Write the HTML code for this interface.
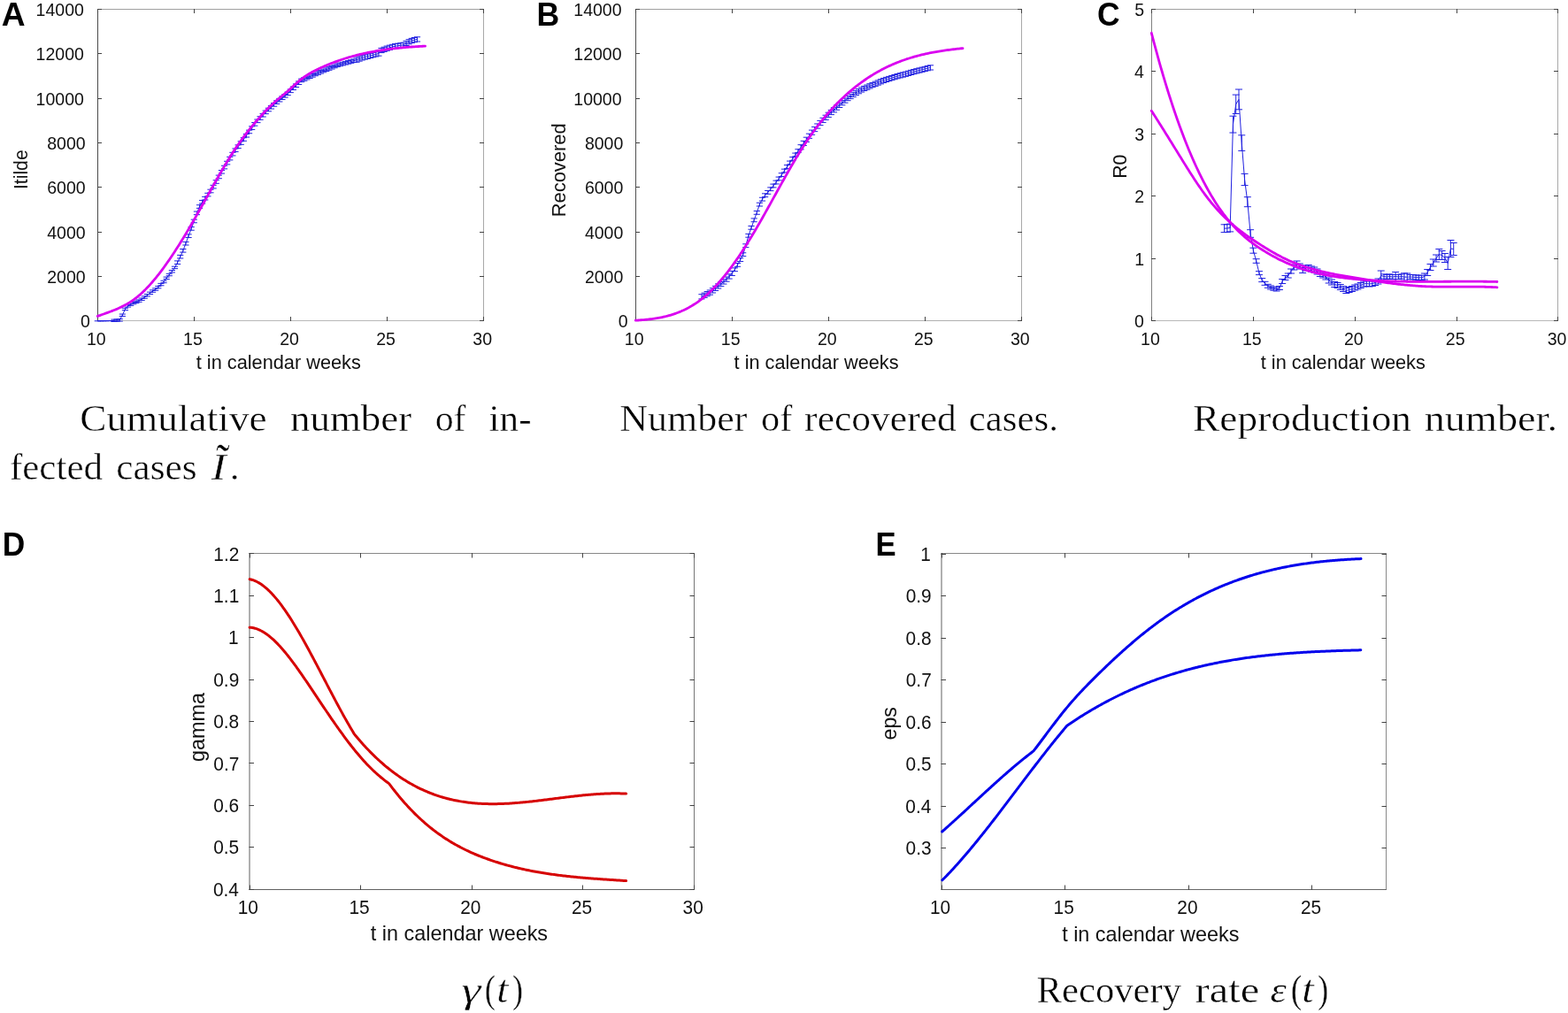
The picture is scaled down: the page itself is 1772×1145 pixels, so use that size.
<!DOCTYPE html>
<html><head><meta charset="utf-8"><title>Figure</title>
<style>html,body{margin:0;padding:0;background:#fff;overflow:hidden;width:1772px;height:1145px}svg{display:block}</style>
</head><body>
<svg width="1772" height="1145" viewBox="0 0 1772 1145">
<rect width="1772" height="1145" fill="#fff"/>
<line x1="110.5" y1="10" x2="110.5" y2="363" stroke="#4a4a4a" stroke-width="1"/>
<line x1="110" y1="10.5" x2="547" y2="10.5" stroke="#a0a0a0" stroke-width="1"/>
<line x1="546.5" y1="10" x2="546.5" y2="363" stroke="#a8a8a8" stroke-width="1"/>
<line x1="110" y1="362.5" x2="547" y2="362.5" stroke="#b8b8b8" stroke-width="1"/>
<line x1="110.5" y1="363" x2="110.5" y2="358" stroke="#444" stroke-width="1"/>
<line x1="110.5" y1="10" x2="110.5" y2="15" stroke="#444" stroke-width="1"/>
<line x1="219.5" y1="363" x2="219.5" y2="358" stroke="#444" stroke-width="1"/>
<line x1="219.5" y1="10" x2="219.5" y2="15" stroke="#444" stroke-width="1"/>
<line x1="328.5" y1="363" x2="328.5" y2="358" stroke="#444" stroke-width="1"/>
<line x1="328.5" y1="10" x2="328.5" y2="15" stroke="#444" stroke-width="1"/>
<line x1="437.5" y1="363" x2="437.5" y2="358" stroke="#444" stroke-width="1"/>
<line x1="437.5" y1="10" x2="437.5" y2="15" stroke="#444" stroke-width="1"/>
<line x1="546.5" y1="363" x2="546.5" y2="358" stroke="#444" stroke-width="1"/>
<line x1="546.5" y1="10" x2="546.5" y2="15" stroke="#444" stroke-width="1"/>
<line x1="110" y1="362.5" x2="115" y2="362.5" stroke="#444" stroke-width="1"/>
<line x1="547" y1="362.5" x2="542" y2="362.5" stroke="#444" stroke-width="1"/>
<line x1="110" y1="312.5" x2="115" y2="312.5" stroke="#444" stroke-width="1"/>
<line x1="547" y1="312.5" x2="542" y2="312.5" stroke="#444" stroke-width="1"/>
<line x1="110" y1="262.5" x2="115" y2="262.5" stroke="#444" stroke-width="1"/>
<line x1="547" y1="262.5" x2="542" y2="262.5" stroke="#444" stroke-width="1"/>
<line x1="110" y1="211.5" x2="115" y2="211.5" stroke="#444" stroke-width="1"/>
<line x1="547" y1="211.5" x2="542" y2="211.5" stroke="#444" stroke-width="1"/>
<line x1="110" y1="161.5" x2="115" y2="161.5" stroke="#444" stroke-width="1"/>
<line x1="547" y1="161.5" x2="542" y2="161.5" stroke="#444" stroke-width="1"/>
<line x1="110" y1="111.5" x2="115" y2="111.5" stroke="#444" stroke-width="1"/>
<line x1="547" y1="111.5" x2="542" y2="111.5" stroke="#444" stroke-width="1"/>
<line x1="110" y1="60.5" x2="115" y2="60.5" stroke="#444" stroke-width="1"/>
<line x1="547" y1="60.5" x2="542" y2="60.5" stroke="#444" stroke-width="1"/>
<line x1="110" y1="10.5" x2="115" y2="10.5" stroke="#444" stroke-width="1"/>
<line x1="547" y1="10.5" x2="542" y2="10.5" stroke="#444" stroke-width="1"/>
<line x1="718.5" y1="10" x2="718.5" y2="363" stroke="#505050" stroke-width="1"/>
<line x1="718" y1="10.5" x2="1155" y2="10.5" stroke="#a0a0a0" stroke-width="1"/>
<line x1="1154.5" y1="10" x2="1154.5" y2="363" stroke="#a8a8a8" stroke-width="1"/>
<line x1="718" y1="362.5" x2="1155" y2="362.5" stroke="#b0b0b0" stroke-width="1"/>
<line x1="718.5" y1="363" x2="718.5" y2="358" stroke="#444" stroke-width="1"/>
<line x1="718.5" y1="10" x2="718.5" y2="15" stroke="#444" stroke-width="1"/>
<line x1="827.5" y1="363" x2="827.5" y2="358" stroke="#444" stroke-width="1"/>
<line x1="827.5" y1="10" x2="827.5" y2="15" stroke="#444" stroke-width="1"/>
<line x1="936.5" y1="363" x2="936.5" y2="358" stroke="#444" stroke-width="1"/>
<line x1="936.5" y1="10" x2="936.5" y2="15" stroke="#444" stroke-width="1"/>
<line x1="1045.5" y1="363" x2="1045.5" y2="358" stroke="#444" stroke-width="1"/>
<line x1="1045.5" y1="10" x2="1045.5" y2="15" stroke="#444" stroke-width="1"/>
<line x1="1154.5" y1="363" x2="1154.5" y2="358" stroke="#444" stroke-width="1"/>
<line x1="1154.5" y1="10" x2="1154.5" y2="15" stroke="#444" stroke-width="1"/>
<line x1="718" y1="362.5" x2="723" y2="362.5" stroke="#444" stroke-width="1"/>
<line x1="1155" y1="362.5" x2="1150" y2="362.5" stroke="#444" stroke-width="1"/>
<line x1="718" y1="312.5" x2="723" y2="312.5" stroke="#444" stroke-width="1"/>
<line x1="1155" y1="312.5" x2="1150" y2="312.5" stroke="#444" stroke-width="1"/>
<line x1="718" y1="262.5" x2="723" y2="262.5" stroke="#444" stroke-width="1"/>
<line x1="1155" y1="262.5" x2="1150" y2="262.5" stroke="#444" stroke-width="1"/>
<line x1="718" y1="211.5" x2="723" y2="211.5" stroke="#444" stroke-width="1"/>
<line x1="1155" y1="211.5" x2="1150" y2="211.5" stroke="#444" stroke-width="1"/>
<line x1="718" y1="161.5" x2="723" y2="161.5" stroke="#444" stroke-width="1"/>
<line x1="1155" y1="161.5" x2="1150" y2="161.5" stroke="#444" stroke-width="1"/>
<line x1="718" y1="111.5" x2="723" y2="111.5" stroke="#444" stroke-width="1"/>
<line x1="1155" y1="111.5" x2="1150" y2="111.5" stroke="#444" stroke-width="1"/>
<line x1="718" y1="60.5" x2="723" y2="60.5" stroke="#444" stroke-width="1"/>
<line x1="1155" y1="60.5" x2="1150" y2="60.5" stroke="#444" stroke-width="1"/>
<line x1="718" y1="10.5" x2="723" y2="10.5" stroke="#444" stroke-width="1"/>
<line x1="1155" y1="10.5" x2="1150" y2="10.5" stroke="#444" stroke-width="1"/>
<line x1="1301.5" y1="10" x2="1301.5" y2="363" stroke="#808080" stroke-width="1"/>
<line x1="1301" y1="10.5" x2="1761" y2="10.5" stroke="#a0a0a0" stroke-width="1"/>
<line x1="1760.5" y1="10" x2="1760.5" y2="363" stroke="#a8a8a8" stroke-width="1"/>
<line x1="1301" y1="362.5" x2="1761" y2="362.5" stroke="#b8b8b8" stroke-width="1"/>
<line x1="1301.5" y1="363" x2="1301.5" y2="358" stroke="#444" stroke-width="1"/>
<line x1="1301.5" y1="10" x2="1301.5" y2="15" stroke="#444" stroke-width="1"/>
<line x1="1416.5" y1="363" x2="1416.5" y2="358" stroke="#444" stroke-width="1"/>
<line x1="1416.5" y1="10" x2="1416.5" y2="15" stroke="#444" stroke-width="1"/>
<line x1="1531.5" y1="363" x2="1531.5" y2="358" stroke="#444" stroke-width="1"/>
<line x1="1531.5" y1="10" x2="1531.5" y2="15" stroke="#444" stroke-width="1"/>
<line x1="1646.5" y1="363" x2="1646.5" y2="358" stroke="#444" stroke-width="1"/>
<line x1="1646.5" y1="10" x2="1646.5" y2="15" stroke="#444" stroke-width="1"/>
<line x1="1760.5" y1="363" x2="1760.5" y2="358" stroke="#444" stroke-width="1"/>
<line x1="1760.5" y1="10" x2="1760.5" y2="15" stroke="#444" stroke-width="1"/>
<line x1="1301" y1="362.5" x2="1306" y2="362.5" stroke="#444" stroke-width="1"/>
<line x1="1761" y1="362.5" x2="1756" y2="362.5" stroke="#444" stroke-width="1"/>
<line x1="1301" y1="292.5" x2="1306" y2="292.5" stroke="#444" stroke-width="1"/>
<line x1="1761" y1="292.5" x2="1756" y2="292.5" stroke="#444" stroke-width="1"/>
<line x1="1301" y1="221.5" x2="1306" y2="221.5" stroke="#444" stroke-width="1"/>
<line x1="1761" y1="221.5" x2="1756" y2="221.5" stroke="#444" stroke-width="1"/>
<line x1="1301" y1="151.5" x2="1306" y2="151.5" stroke="#444" stroke-width="1"/>
<line x1="1761" y1="151.5" x2="1756" y2="151.5" stroke="#444" stroke-width="1"/>
<line x1="1301" y1="80.5" x2="1306" y2="80.5" stroke="#444" stroke-width="1"/>
<line x1="1761" y1="80.5" x2="1756" y2="80.5" stroke="#444" stroke-width="1"/>
<line x1="1301" y1="10.5" x2="1306" y2="10.5" stroke="#444" stroke-width="1"/>
<line x1="1761" y1="10.5" x2="1756" y2="10.5" stroke="#444" stroke-width="1"/>
<line x1="282" y1="625" x2="282" y2="1006" stroke="#606060" stroke-width="1"/>
<line x1="281.5" y1="625.5" x2="785" y2="625.5" stroke="#888888" stroke-width="1"/>
<line x1="784.5" y1="625" x2="784.5" y2="1006" stroke="#777777" stroke-width="1"/>
<line x1="281.5" y1="1005.5" x2="785" y2="1005.5" stroke="#606060" stroke-width="1"/>
<line x1="282.5" y1="1006" x2="282.5" y2="1000.5" stroke="#444" stroke-width="1"/>
<line x1="282.5" y1="625" x2="282.5" y2="630.5" stroke="#444" stroke-width="1"/>
<line x1="407.5" y1="1006" x2="407.5" y2="1000.5" stroke="#444" stroke-width="1"/>
<line x1="407.5" y1="625" x2="407.5" y2="630.5" stroke="#444" stroke-width="1"/>
<line x1="533.5" y1="1006" x2="533.5" y2="1000.5" stroke="#444" stroke-width="1"/>
<line x1="533.5" y1="625" x2="533.5" y2="630.5" stroke="#444" stroke-width="1"/>
<line x1="658.5" y1="1006" x2="658.5" y2="1000.5" stroke="#444" stroke-width="1"/>
<line x1="658.5" y1="625" x2="658.5" y2="630.5" stroke="#444" stroke-width="1"/>
<line x1="784.5" y1="1006" x2="784.5" y2="1000.5" stroke="#444" stroke-width="1"/>
<line x1="784.5" y1="625" x2="784.5" y2="630.5" stroke="#444" stroke-width="1"/>
<line x1="281.5" y1="1005.5" x2="287" y2="1005.5" stroke="#444" stroke-width="1"/>
<line x1="785" y1="1005.5" x2="779.5" y2="1005.5" stroke="#444" stroke-width="1"/>
<line x1="281.5" y1="957.5" x2="287" y2="957.5" stroke="#444" stroke-width="1"/>
<line x1="785" y1="957.5" x2="779.5" y2="957.5" stroke="#444" stroke-width="1"/>
<line x1="281.5" y1="910.5" x2="287" y2="910.5" stroke="#444" stroke-width="1"/>
<line x1="785" y1="910.5" x2="779.5" y2="910.5" stroke="#444" stroke-width="1"/>
<line x1="281.5" y1="862.5" x2="287" y2="862.5" stroke="#444" stroke-width="1"/>
<line x1="785" y1="862.5" x2="779.5" y2="862.5" stroke="#444" stroke-width="1"/>
<line x1="281.5" y1="815.5" x2="287" y2="815.5" stroke="#444" stroke-width="1"/>
<line x1="785" y1="815.5" x2="779.5" y2="815.5" stroke="#444" stroke-width="1"/>
<line x1="281.5" y1="768.5" x2="287" y2="768.5" stroke="#444" stroke-width="1"/>
<line x1="785" y1="768.5" x2="779.5" y2="768.5" stroke="#444" stroke-width="1"/>
<line x1="281.5" y1="720.5" x2="287" y2="720.5" stroke="#444" stroke-width="1"/>
<line x1="785" y1="720.5" x2="779.5" y2="720.5" stroke="#444" stroke-width="1"/>
<line x1="281.5" y1="673.5" x2="287" y2="673.5" stroke="#444" stroke-width="1"/>
<line x1="785" y1="673.5" x2="779.5" y2="673.5" stroke="#444" stroke-width="1"/>
<line x1="281.5" y1="625.5" x2="287" y2="625.5" stroke="#444" stroke-width="1"/>
<line x1="785" y1="625.5" x2="779.5" y2="625.5" stroke="#444" stroke-width="1"/>
<line x1="1064" y1="625" x2="1064" y2="1006" stroke="#606060" stroke-width="1"/>
<line x1="1063.5" y1="625.5" x2="1567" y2="625.5" stroke="#888888" stroke-width="1"/>
<line x1="1566.5" y1="625" x2="1566.5" y2="1006" stroke="#888888" stroke-width="1"/>
<line x1="1063.5" y1="1005.5" x2="1567" y2="1005.5" stroke="#666666" stroke-width="1"/>
<line x1="1064.5" y1="1006" x2="1064.5" y2="1000.5" stroke="#444" stroke-width="1"/>
<line x1="1064.5" y1="625" x2="1064.5" y2="630.5" stroke="#444" stroke-width="1"/>
<line x1="1203.5" y1="1006" x2="1203.5" y2="1000.5" stroke="#444" stroke-width="1"/>
<line x1="1203.5" y1="625" x2="1203.5" y2="630.5" stroke="#444" stroke-width="1"/>
<line x1="1343.5" y1="1006" x2="1343.5" y2="1000.5" stroke="#444" stroke-width="1"/>
<line x1="1343.5" y1="625" x2="1343.5" y2="630.5" stroke="#444" stroke-width="1"/>
<line x1="1482.5" y1="1006" x2="1482.5" y2="1000.5" stroke="#444" stroke-width="1"/>
<line x1="1482.5" y1="625" x2="1482.5" y2="630.5" stroke="#444" stroke-width="1"/>
<line x1="1063.5" y1="958.5" x2="1069" y2="958.5" stroke="#444" stroke-width="1"/>
<line x1="1567" y1="958.5" x2="1561.5" y2="958.5" stroke="#444" stroke-width="1"/>
<line x1="1063.5" y1="911.5" x2="1069" y2="911.5" stroke="#444" stroke-width="1"/>
<line x1="1567" y1="911.5" x2="1561.5" y2="911.5" stroke="#444" stroke-width="1"/>
<line x1="1063.5" y1="863.5" x2="1069" y2="863.5" stroke="#444" stroke-width="1"/>
<line x1="1567" y1="863.5" x2="1561.5" y2="863.5" stroke="#444" stroke-width="1"/>
<line x1="1063.5" y1="816.5" x2="1069" y2="816.5" stroke="#444" stroke-width="1"/>
<line x1="1567" y1="816.5" x2="1561.5" y2="816.5" stroke="#444" stroke-width="1"/>
<line x1="1063.5" y1="768.5" x2="1069" y2="768.5" stroke="#444" stroke-width="1"/>
<line x1="1567" y1="768.5" x2="1561.5" y2="768.5" stroke="#444" stroke-width="1"/>
<line x1="1063.5" y1="721.5" x2="1069" y2="721.5" stroke="#444" stroke-width="1"/>
<line x1="1567" y1="721.5" x2="1561.5" y2="721.5" stroke="#444" stroke-width="1"/>
<line x1="1063.5" y1="673.5" x2="1069" y2="673.5" stroke="#444" stroke-width="1"/>
<line x1="1567" y1="673.5" x2="1561.5" y2="673.5" stroke="#444" stroke-width="1"/>
<line x1="1063.5" y1="626.5" x2="1069" y2="626.5" stroke="#444" stroke-width="1"/>
<line x1="1567" y1="626.5" x2="1561.5" y2="626.5" stroke="#444" stroke-width="1"/>
<text x="91.04" y="370.4" font-family="'Liberation Sans', Arial, Helvetica, sans-serif" font-size="21" fill="#111" textLength="10.86" lengthAdjust="spacingAndGlyphs">0</text>
<text x="53.18" y="320.06" font-family="'Liberation Sans', Arial, Helvetica, sans-serif" font-size="21" fill="#111" textLength="43.45" lengthAdjust="spacingAndGlyphs">2000</text>
<text x="53.18" y="269.71" font-family="'Liberation Sans', Arial, Helvetica, sans-serif" font-size="21" fill="#111" textLength="43.45" lengthAdjust="spacingAndGlyphs">4000</text>
<text x="53.18" y="219.37" font-family="'Liberation Sans', Arial, Helvetica, sans-serif" font-size="21" fill="#111" textLength="43.45" lengthAdjust="spacingAndGlyphs">6000</text>
<text x="53.18" y="169.03" font-family="'Liberation Sans', Arial, Helvetica, sans-serif" font-size="21" fill="#111" textLength="43.45" lengthAdjust="spacingAndGlyphs">8000</text>
<text x="40.59" y="118.69" font-family="'Liberation Sans', Arial, Helvetica, sans-serif" font-size="21" fill="#111" textLength="54.31" lengthAdjust="spacingAndGlyphs">10000</text>
<text x="40.59" y="68.34" font-family="'Liberation Sans', Arial, Helvetica, sans-serif" font-size="21" fill="#111" textLength="54.31" lengthAdjust="spacingAndGlyphs">12000</text>
<text x="40.59" y="18" font-family="'Liberation Sans', Arial, Helvetica, sans-serif" font-size="21" fill="#111" textLength="54.31" lengthAdjust="spacingAndGlyphs">14000</text>
<text x="698.74" y="370.4" font-family="'Liberation Sans', Arial, Helvetica, sans-serif" font-size="21" fill="#111" textLength="10.86" lengthAdjust="spacingAndGlyphs">0</text>
<text x="660.88" y="320.06" font-family="'Liberation Sans', Arial, Helvetica, sans-serif" font-size="21" fill="#111" textLength="43.45" lengthAdjust="spacingAndGlyphs">2000</text>
<text x="660.88" y="269.71" font-family="'Liberation Sans', Arial, Helvetica, sans-serif" font-size="21" fill="#111" textLength="43.45" lengthAdjust="spacingAndGlyphs">4000</text>
<text x="660.88" y="219.37" font-family="'Liberation Sans', Arial, Helvetica, sans-serif" font-size="21" fill="#111" textLength="43.45" lengthAdjust="spacingAndGlyphs">6000</text>
<text x="660.88" y="169.03" font-family="'Liberation Sans', Arial, Helvetica, sans-serif" font-size="21" fill="#111" textLength="43.45" lengthAdjust="spacingAndGlyphs">8000</text>
<text x="648.29" y="118.69" font-family="'Liberation Sans', Arial, Helvetica, sans-serif" font-size="21" fill="#111" textLength="54.31" lengthAdjust="spacingAndGlyphs">10000</text>
<text x="648.29" y="68.34" font-family="'Liberation Sans', Arial, Helvetica, sans-serif" font-size="21" fill="#111" textLength="54.31" lengthAdjust="spacingAndGlyphs">12000</text>
<text x="648.29" y="18" font-family="'Liberation Sans', Arial, Helvetica, sans-serif" font-size="21" fill="#111" textLength="54.31" lengthAdjust="spacingAndGlyphs">14000</text>
<text x="1282.04" y="370.4" font-family="'Liberation Sans', Arial, Helvetica, sans-serif" font-size="21" fill="#111" textLength="10.86" lengthAdjust="spacingAndGlyphs">0</text>
<text x="1282.24" y="299.92" font-family="'Liberation Sans', Arial, Helvetica, sans-serif" font-size="21" fill="#111" textLength="10.86" lengthAdjust="spacingAndGlyphs">1</text>
<text x="1282.34" y="229.44" font-family="'Liberation Sans', Arial, Helvetica, sans-serif" font-size="21" fill="#111" textLength="10.86" lengthAdjust="spacingAndGlyphs">2</text>
<text x="1282.14" y="158.96" font-family="'Liberation Sans', Arial, Helvetica, sans-serif" font-size="21" fill="#111" textLength="10.86" lengthAdjust="spacingAndGlyphs">3</text>
<text x="1281.95" y="88.48" font-family="'Liberation Sans', Arial, Helvetica, sans-serif" font-size="21" fill="#111" textLength="10.86" lengthAdjust="spacingAndGlyphs">4</text>
<text x="1282.14" y="18" font-family="'Liberation Sans', Arial, Helvetica, sans-serif" font-size="21" fill="#111" textLength="10.86" lengthAdjust="spacingAndGlyphs">5</text>
<text x="240.95" y="1012.8" font-family="'Liberation Sans', Arial, Helvetica, sans-serif" font-size="21.6" fill="#111" textLength="28.98" lengthAdjust="spacingAndGlyphs">0.4</text>
<text x="241.16" y="965.4" font-family="'Liberation Sans', Arial, Helvetica, sans-serif" font-size="21.6" fill="#111" textLength="28.98" lengthAdjust="spacingAndGlyphs">0.5</text>
<text x="241.16" y="918" font-family="'Liberation Sans', Arial, Helvetica, sans-serif" font-size="21.6" fill="#111" textLength="28.98" lengthAdjust="spacingAndGlyphs">0.6</text>
<text x="241.37" y="870.6" font-family="'Liberation Sans', Arial, Helvetica, sans-serif" font-size="21.6" fill="#111" textLength="28.98" lengthAdjust="spacingAndGlyphs">0.7</text>
<text x="241.16" y="823.2" font-family="'Liberation Sans', Arial, Helvetica, sans-serif" font-size="21.6" fill="#111" textLength="28.98" lengthAdjust="spacingAndGlyphs">0.8</text>
<text x="241.26" y="775.8" font-family="'Liberation Sans', Arial, Helvetica, sans-serif" font-size="21.6" fill="#111" textLength="28.98" lengthAdjust="spacingAndGlyphs">0.9</text>
<text x="257.97" y="728.4" font-family="'Liberation Sans', Arial, Helvetica, sans-serif" font-size="21.6" fill="#111" textLength="11.59" lengthAdjust="spacingAndGlyphs">1</text>
<text x="241.26" y="681" font-family="'Liberation Sans', Arial, Helvetica, sans-serif" font-size="21.6" fill="#111" textLength="28.98" lengthAdjust="spacingAndGlyphs">1.1</text>
<text x="241.37" y="633.6" font-family="'Liberation Sans', Arial, Helvetica, sans-serif" font-size="21.6" fill="#111" textLength="28.98" lengthAdjust="spacingAndGlyphs">1.2</text>
<text x="1023.56" y="966.46" font-family="'Liberation Sans', Arial, Helvetica, sans-serif" font-size="21.6" fill="#111" textLength="28.98" lengthAdjust="spacingAndGlyphs">0.3</text>
<text x="1023.35" y="918.94" font-family="'Liberation Sans', Arial, Helvetica, sans-serif" font-size="21.6" fill="#111" textLength="28.98" lengthAdjust="spacingAndGlyphs">0.4</text>
<text x="1023.56" y="871.42" font-family="'Liberation Sans', Arial, Helvetica, sans-serif" font-size="21.6" fill="#111" textLength="28.98" lengthAdjust="spacingAndGlyphs">0.5</text>
<text x="1023.56" y="823.89" font-family="'Liberation Sans', Arial, Helvetica, sans-serif" font-size="21.6" fill="#111" textLength="28.98" lengthAdjust="spacingAndGlyphs">0.6</text>
<text x="1023.77" y="776.37" font-family="'Liberation Sans', Arial, Helvetica, sans-serif" font-size="21.6" fill="#111" textLength="28.98" lengthAdjust="spacingAndGlyphs">0.7</text>
<text x="1023.56" y="728.85" font-family="'Liberation Sans', Arial, Helvetica, sans-serif" font-size="21.6" fill="#111" textLength="28.98" lengthAdjust="spacingAndGlyphs">0.8</text>
<text x="1023.66" y="681.32" font-family="'Liberation Sans', Arial, Helvetica, sans-serif" font-size="21.6" fill="#111" textLength="28.98" lengthAdjust="spacingAndGlyphs">0.9</text>
<text x="1040.37" y="633.8" font-family="'Liberation Sans', Arial, Helvetica, sans-serif" font-size="21.6" fill="#111" textLength="11.59" lengthAdjust="spacingAndGlyphs">1</text>
<text x="97.97" y="390" font-family="'Liberation Sans', Arial, Helvetica, sans-serif" font-size="21" fill="#111" textLength="21.72" lengthAdjust="spacingAndGlyphs">10</text>
<text x="207.02" y="390" font-family="'Liberation Sans', Arial, Helvetica, sans-serif" font-size="21" fill="#111" textLength="21.72" lengthAdjust="spacingAndGlyphs">15</text>
<text x="316.21" y="390" font-family="'Liberation Sans', Arial, Helvetica, sans-serif" font-size="21" fill="#111" textLength="21.72" lengthAdjust="spacingAndGlyphs">20</text>
<text x="425.26" y="390" font-family="'Liberation Sans', Arial, Helvetica, sans-serif" font-size="21" fill="#111" textLength="21.72" lengthAdjust="spacingAndGlyphs">25</text>
<text x="534.31" y="390" font-family="'Liberation Sans', Arial, Helvetica, sans-serif" font-size="21" fill="#111" textLength="21.72" lengthAdjust="spacingAndGlyphs">30</text>
<text x="705.77" y="390" font-family="'Liberation Sans', Arial, Helvetica, sans-serif" font-size="21" fill="#111" textLength="21.72" lengthAdjust="spacingAndGlyphs">10</text>
<text x="814.79" y="390" font-family="'Liberation Sans', Arial, Helvetica, sans-serif" font-size="21" fill="#111" textLength="21.72" lengthAdjust="spacingAndGlyphs">15</text>
<text x="923.96" y="390" font-family="'Liberation Sans', Arial, Helvetica, sans-serif" font-size="21" fill="#111" textLength="21.72" lengthAdjust="spacingAndGlyphs">20</text>
<text x="1032.99" y="390" font-family="'Liberation Sans', Arial, Helvetica, sans-serif" font-size="21" fill="#111" textLength="21.72" lengthAdjust="spacingAndGlyphs">25</text>
<text x="1142.01" y="390" font-family="'Liberation Sans', Arial, Helvetica, sans-serif" font-size="21" fill="#111" textLength="21.72" lengthAdjust="spacingAndGlyphs">30</text>
<text x="1289.07" y="390" font-family="'Liberation Sans', Arial, Helvetica, sans-serif" font-size="21" fill="#111" textLength="21.72" lengthAdjust="spacingAndGlyphs">10</text>
<text x="1403.94" y="390" font-family="'Liberation Sans', Arial, Helvetica, sans-serif" font-size="21" fill="#111" textLength="21.72" lengthAdjust="spacingAndGlyphs">15</text>
<text x="1518.96" y="390" font-family="'Liberation Sans', Arial, Helvetica, sans-serif" font-size="21" fill="#111" textLength="21.72" lengthAdjust="spacingAndGlyphs">20</text>
<text x="1633.84" y="390" font-family="'Liberation Sans', Arial, Helvetica, sans-serif" font-size="21" fill="#111" textLength="21.72" lengthAdjust="spacingAndGlyphs">25</text>
<text x="1748.71" y="390" font-family="'Liberation Sans', Arial, Helvetica, sans-serif" font-size="21" fill="#111" textLength="21.72" lengthAdjust="spacingAndGlyphs">30</text>
<text x="268.71" y="1033.3" font-family="'Liberation Sans', Arial, Helvetica, sans-serif" font-size="21.6" fill="#111" textLength="23.19" lengthAdjust="spacingAndGlyphs">10</text>
<text x="394.39" y="1033.3" font-family="'Liberation Sans', Arial, Helvetica, sans-serif" font-size="21.6" fill="#111" textLength="23.19" lengthAdjust="spacingAndGlyphs">15</text>
<text x="520.23" y="1033.3" font-family="'Liberation Sans', Arial, Helvetica, sans-serif" font-size="21.6" fill="#111" textLength="23.19" lengthAdjust="spacingAndGlyphs">20</text>
<text x="645.9" y="1033.3" font-family="'Liberation Sans', Arial, Helvetica, sans-serif" font-size="21.6" fill="#111" textLength="23.19" lengthAdjust="spacingAndGlyphs">25</text>
<text x="771.58" y="1033.3" font-family="'Liberation Sans', Arial, Helvetica, sans-serif" font-size="21.6" fill="#111" textLength="23.19" lengthAdjust="spacingAndGlyphs">30</text>
<text x="1051.01" y="1033.3" font-family="'Liberation Sans', Arial, Helvetica, sans-serif" font-size="21.6" fill="#111" textLength="23.19" lengthAdjust="spacingAndGlyphs">10</text>
<text x="1190.59" y="1033.3" font-family="'Liberation Sans', Arial, Helvetica, sans-serif" font-size="21.6" fill="#111" textLength="23.19" lengthAdjust="spacingAndGlyphs">15</text>
<text x="1330.33" y="1033.3" font-family="'Liberation Sans', Arial, Helvetica, sans-serif" font-size="21.6" fill="#111" textLength="23.19" lengthAdjust="spacingAndGlyphs">20</text>
<text x="1469.91" y="1033.3" font-family="'Liberation Sans', Arial, Helvetica, sans-serif" font-size="21.6" fill="#111" textLength="23.19" lengthAdjust="spacingAndGlyphs">25</text>
<text x="221.77" y="416.6" font-family="'Liberation Sans', Arial, Helvetica, sans-serif" font-size="21.8" fill="#111" textLength="186.09" lengthAdjust="spacingAndGlyphs">t in calendar weeks</text>
<text x="829.57" y="416.6" font-family="'Liberation Sans', Arial, Helvetica, sans-serif" font-size="21.8" fill="#111" textLength="185.99" lengthAdjust="spacingAndGlyphs">t in calendar weeks</text>
<text x="1424.77" y="416.6" font-family="'Liberation Sans', Arial, Helvetica, sans-serif" font-size="21.8" fill="#111" textLength="186.09" lengthAdjust="spacingAndGlyphs">t in calendar weeks</text>
<text x="418.85" y="1063.4" font-family="'Liberation Sans', Arial, Helvetica, sans-serif" font-size="23.4" fill="#111">t in calendar weeks</text>
<text x="1200.15" y="1063.8" font-family="'Liberation Sans', Arial, Helvetica, sans-serif" font-size="23.4" fill="#111">t in calendar weeks</text>
<text x="0" y="0" transform="translate(30.6 214.11) rotate(-90)" font-family="'Liberation Sans', Arial, Helvetica, sans-serif" font-size="21.8" fill="#111" textLength="44.81" lengthAdjust="spacingAndGlyphs">Itilde</text>
<text x="0" y="0" transform="translate(639 245.25) rotate(-90)" font-family="'Liberation Sans', Arial, Helvetica, sans-serif" font-size="21.8" fill="#111" textLength="105.9" lengthAdjust="spacingAndGlyphs">Recovered</text>
<text x="0" y="0" transform="translate(1272.6 201.8) rotate(-90)" font-family="'Liberation Sans', Arial, Helvetica, sans-serif" font-size="21.8" fill="#111" textLength="27.11" lengthAdjust="spacingAndGlyphs">R0</text>
<text x="0" y="0" transform="translate(230.8 860.93) rotate(-90)" font-family="'Liberation Sans', Arial, Helvetica, sans-serif" font-size="23.4" fill="#111" textLength="77.82" lengthAdjust="spacingAndGlyphs">gamma</text>
<text x="0" y="0" transform="translate(1013.3 836.53) rotate(-90)" font-family="'Liberation Sans', Arial, Helvetica, sans-serif" font-size="23.4" fill="#111" textLength="37.5" lengthAdjust="spacingAndGlyphs">eps</text>
<text x="1.87" y="29.3" font-family="'Liberation Sans', Arial, Helvetica, sans-serif" font-size="37.3" font-weight="bold" fill="#000" textLength="26.84" lengthAdjust="spacingAndGlyphs">A</text>
<text x="606.59" y="28.7" font-family="'Liberation Sans', Arial, Helvetica, sans-serif" font-size="37.3" font-weight="bold" fill="#000" textLength="25.69" lengthAdjust="spacingAndGlyphs">B</text>
<text x="1239.98" y="29.1" font-family="'Liberation Sans', Arial, Helvetica, sans-serif" font-size="37.3" font-weight="bold" fill="#000" textLength="25.58" lengthAdjust="spacingAndGlyphs">C</text>
<text x="2.71" y="628.4" font-family="'Liberation Sans', Arial, Helvetica, sans-serif" font-size="37.3" font-weight="bold" fill="#000" textLength="25.48" lengthAdjust="spacingAndGlyphs">D</text>
<text x="989.45" y="628.4" font-family="'Liberation Sans', Arial, Helvetica, sans-serif" font-size="37.3" font-weight="bold" fill="#000" textLength="23.14" lengthAdjust="spacingAndGlyphs">E</text>
<text x="90.19" y="487.4" font-family="'Liberation Serif', 'Times New Roman', serif" font-size="42" fill="#000" textLength="211.54" lengthAdjust="spacingAndGlyphs" stroke="#fff" stroke-width="0.45">Cumulative</text>
<text x="328" y="487.4" font-family="'Liberation Serif', 'Times New Roman', serif" font-size="42" fill="#000" textLength="137.13" lengthAdjust="spacingAndGlyphs" stroke="#fff" stroke-width="0.45">number</text>
<text x="491.73" y="487.4" font-family="'Liberation Serif', 'Times New Roman', serif" font-size="42" fill="#000" textLength="34.79" lengthAdjust="spacingAndGlyphs" stroke="#fff" stroke-width="0.45">of</text>
<text x="552.64" y="487.4" font-family="'Liberation Serif', 'Times New Roman', serif" font-size="42" fill="#000" textLength="47.91" lengthAdjust="spacingAndGlyphs" stroke="#fff" stroke-width="0.45">in-</text>
<text x="10.91" y="542.2" font-family="'Liberation Serif', 'Times New Roman', serif" font-size="42" fill="#000" textLength="105.12" lengthAdjust="spacingAndGlyphs" stroke="#fff" stroke-width="0.45">fected</text>
<text x="131.27" y="542.2" font-family="'Liberation Serif', 'Times New Roman', serif" font-size="42" fill="#000" textLength="91.23" lengthAdjust="spacingAndGlyphs" stroke="#fff" stroke-width="0.45">cases</text>
<text x="238.85" y="542.2" font-family="'Liberation Serif', 'Times New Roman', serif" font-size="42" font-style="italic" fill="#000" textLength="16.87" lengthAdjust="spacingAndGlyphs" stroke="#fff" stroke-width="0.45">I</text>
<text x="244.14" y="542.4" font-family="'Liberation Serif', 'Times New Roman', serif" font-size="60" fill="#000" textLength="15.33" lengthAdjust="spacingAndGlyphs" stroke="#fff" stroke-width="0.45">˜</text>
<text x="259.68" y="542.2" font-family="'Liberation Serif', 'Times New Roman', serif" font-size="42" fill="#000" textLength="10.83" lengthAdjust="spacingAndGlyphs" stroke="#fff" stroke-width="0.45">.</text>
<text x="700.38" y="487.2" font-family="'Liberation Serif', 'Times New Roman', serif" font-size="42" fill="#000" textLength="143.92" lengthAdjust="spacingAndGlyphs" stroke="#fff" stroke-width="0.45">Number</text>
<text x="860" y="487.2" font-family="'Liberation Serif', 'Times New Roman', serif" font-size="42" fill="#000" textLength="35.31" lengthAdjust="spacingAndGlyphs" stroke="#fff" stroke-width="0.45">of</text>
<text x="909.13" y="487.2" font-family="'Liberation Serif', 'Times New Roman', serif" font-size="42" fill="#000" textLength="171.67" lengthAdjust="spacingAndGlyphs" stroke="#fff" stroke-width="0.45">recovered</text>
<text x="1094.68" y="487.2" font-family="'Liberation Serif', 'Times New Roman', serif" font-size="42" fill="#000" textLength="101.3" lengthAdjust="spacingAndGlyphs" stroke="#fff" stroke-width="0.45">cases.</text>
<text x="1348.14" y="487.2" font-family="'Liberation Serif', 'Times New Roman', serif" font-size="42" fill="#000" textLength="246.87" lengthAdjust="spacingAndGlyphs" stroke="#fff" stroke-width="0.45">Reproduction</text>
<text x="1609.67" y="487.2" font-family="'Liberation Serif', 'Times New Roman', serif" font-size="42" fill="#000" textLength="150.31" lengthAdjust="spacingAndGlyphs" stroke="#fff" stroke-width="0.45">number.</text>
<text x="521.59" y="1133.2" font-family="'Liberation Serif', 'Times New Roman', serif" font-size="42" font-style="italic" fill="#000" textLength="21.95" lengthAdjust="spacingAndGlyphs" stroke="#fff" stroke-width="0.45">γ</text>
<text x="547.64" y="1132.8" font-family="'Liberation Serif', 'Times New Roman', serif" font-size="44.8" fill="#000" textLength="12.28" lengthAdjust="spacingAndGlyphs" stroke="#fff" stroke-width="0.45">(</text>
<text x="561.36" y="1132.9" font-family="'Liberation Serif', 'Times New Roman', serif" font-size="44.5" font-style="italic" fill="#000" textLength="13.18" lengthAdjust="spacingAndGlyphs" stroke="#fff" stroke-width="0.45">t</text>
<text x="579.02" y="1132.8" font-family="'Liberation Serif', 'Times New Roman', serif" font-size="44.8" fill="#000" textLength="12.04" lengthAdjust="spacingAndGlyphs" stroke="#fff" stroke-width="0.45">)</text>
<text x="1171.52" y="1133.2" font-family="'Liberation Serif', 'Times New Roman', serif" font-size="42" fill="#000" textLength="163.56" lengthAdjust="spacingAndGlyphs" stroke="#fff" stroke-width="0.45">Recovery</text>
<text x="1350.63" y="1133.2" font-family="'Liberation Serif', 'Times New Roman', serif" font-size="42" fill="#000" textLength="72.7" lengthAdjust="spacingAndGlyphs" stroke="#fff" stroke-width="0.45">rate</text>
<text x="1435.57" y="1133.2" font-family="'Liberation Serif', 'Times New Roman', serif" font-size="42" font-style="italic" fill="#000" textLength="18.39" lengthAdjust="spacingAndGlyphs" stroke="#fff" stroke-width="0.45">ε</text>
<text x="1458.71" y="1132.8" font-family="'Liberation Serif', 'Times New Roman', serif" font-size="44.8" fill="#000" textLength="12.54" lengthAdjust="spacingAndGlyphs" stroke="#fff" stroke-width="0.45">(</text>
<text x="1471.33" y="1132.9" font-family="'Liberation Serif', 'Times New Roman', serif" font-size="44.5" font-style="italic" fill="#000" textLength="13.4" lengthAdjust="spacingAndGlyphs" stroke="#fff" stroke-width="0.45">t</text>
<text x="1489.09" y="1132.8" font-family="'Liberation Serif', 'Times New Roman', serif" font-size="44.8" fill="#000" textLength="12.3" lengthAdjust="spacingAndGlyphs" stroke="#fff" stroke-width="0.45">)</text>
<path d="M106.7 362.8H113.9M109.81 362.76H117.01M112.93 362.72H120.13M116.04 362.67H123.24M119.16 362.63H126.36M122.27 362.53H129.47M128.98 361.1V363.5M125.38 361.1H132.58M125.38 363.5H132.58M132.1 360.86V363.26M128.5 360.86H135.7M128.5 363.26H135.7M135.21 360.62V363.02M131.61 360.62H138.81M131.61 363.02H138.81M138.33 355.04V357.44M134.73 355.04H141.93M134.73 357.44H141.93M141.44 348.25V350.65M137.84 348.25H145.04M137.84 350.65H145.04M144.55 344.67V347.07M140.95 344.67H148.15M140.95 347.07H148.15M147.67 342.99V345.39M144.07 342.99H151.27M144.07 345.39H151.27M150.78 341.41V343.81M147.18 341.41H154.38M147.18 343.81H154.38M153.9 340.14V342.54M150.3 340.14H157.5M150.3 342.54H157.5M157.01 338.91V341.31M153.41 338.91H160.61M153.41 341.31H160.61M160.12 337.05V339.45M156.52 337.05H163.72M156.52 339.45H163.72M163.24 334.85V337.25M159.64 334.85H166.84M159.64 337.25H166.84M166.35 332.51V334.91M162.75 332.51H169.95M162.75 334.91H169.95M169.47 330.16V332.56M165.87 330.16H173.07M165.87 332.56H173.07M172.58 327.86V330.26M168.98 327.86H176.18M168.98 330.26H176.18M175.69 325.88V328.28M172.09 325.88H179.29M172.09 328.28H179.29M178.81 323.43V325.83M175.21 323.43H182.41M175.21 325.83H182.41M181.92 320.38V322.78M178.32 320.38H185.52M178.32 322.78H185.52M185.04 317.26V319.66M181.44 317.26H188.64M181.44 319.66H188.64M188.15 313.13V315.53M184.55 313.13H191.75M184.55 315.53H191.75M191.26 309.33V311.73M187.66 309.33H194.86M187.66 311.73H194.86M194.38 305.53V307.93M190.78 305.53H197.98M190.78 307.93H197.98M197.49 301.21V303.61M193.89 301.21H201.09M193.89 303.61H201.09M200.61 294.89V298.49M197.01 294.89H204.21M197.01 298.49H204.21M203.72 288.37V291.97M200.12 288.37H207.32M200.12 291.97H207.32M206.83 281.51V285.11M203.23 281.51H210.43M203.23 285.11H210.43M209.95 273.41V277.01M206.35 273.41H213.55M206.35 277.01H213.55M213.06 264.88V268.48M209.46 264.88H216.66M209.46 268.48H216.66M216.18 256.63V260.23M212.58 256.63H219.78M212.58 260.23H219.78M219.29 248.16V251.76M215.69 248.16H222.89M215.69 251.76H222.89M222.4 239.06V242.66M218.8 239.06H226M218.8 242.66H226M225.52 231.72V235.32M221.92 231.72H229.12M221.92 235.32H229.12M228.63 226.45V230.05M225.03 226.45H232.23M225.03 230.05H232.23M231.75 222.37V225.97M228.15 222.37H235.35M228.15 225.97H235.35M234.86 218.29V221.89M231.26 218.29H238.46M231.26 221.89H238.46M237.97 214.2V217.8M234.37 214.2H241.57M234.37 217.8H241.57M241.09 209.34V212.94M237.49 209.34H244.69M237.49 212.94H244.69M244.2 203.72V207.32M240.6 203.72H247.8M240.6 207.32H247.8M247.32 198.11V201.71M243.72 198.11H250.92M243.72 201.71H250.92M250.43 192.49V196.09M246.83 192.49H254.03M246.83 196.09H254.03M253.54 187.25V190.85M249.94 187.25H257.14M249.94 190.85H257.14M256.66 182.28V185.88M253.06 182.28H260.26M253.06 185.88H260.26M259.77 177.3V180.9M256.17 177.3H263.37M256.17 180.9H263.37M262.89 172.32V175.92M259.29 172.32H266.49M259.29 175.92H266.49M266 167.95V171.55M262.4 167.95H269.6M262.4 171.55H269.6M269.11 163.86V167.46M265.51 163.86H272.71M265.51 167.46H272.71M272.23 159.78V163.38M268.63 159.78H275.83M268.63 163.38H275.83M275.34 155.69V159.29M271.74 155.69H278.94M271.74 159.29H278.94M278.46 151.44V155.04M274.86 151.44H282.06M274.86 155.04H282.06M281.57 147.14V150.74M277.97 147.14H285.17M277.97 150.74H285.17M284.68 142.84V146.44M281.08 142.84H288.28M281.08 146.44H288.28M287.8 138.53V142.13M284.2 138.53H291.4M284.2 142.13H291.4M290.91 135.02V138.62M287.31 135.02H294.51M287.31 138.62H294.51M294.03 131.71V135.31M290.43 131.71H297.63M290.43 135.31H297.63M297.14 128.39V131.99M293.54 128.39H300.74M293.54 131.99H300.74M300.25 125.07V128.67M296.65 125.07H303.85M296.65 128.67H303.85M303.37 122.2V125.8M299.77 122.2H306.97M299.77 125.8H306.97M306.48 119.4V123M302.88 119.4H310.08M302.88 123H310.08M309.6 116.59V120.19M306 116.59H313.2M306 120.19H313.2M312.71 113.78V117.38M309.11 113.78H316.31M309.11 117.38H316.31M315.82 111.35V114.95M312.22 111.35H319.42M312.22 114.95H319.42M318.94 108.92V112.52M315.34 108.92H322.54M315.34 112.52H322.54M322.05 106.5V110.1M318.45 106.5H325.65M318.45 110.1H325.65M325.17 104.04V107.64M321.57 104.04H328.77M321.57 107.64H328.77M328.28 101.01V104.61M324.68 101.01H331.88M324.68 104.61H331.88M331.39 97.97V101.57M327.79 97.97H334.99M327.79 101.57H334.99M334.51 94.94V98.54M330.91 94.94H338.11M330.91 98.54H338.11M337.62 91.91V95.51M334.02 91.91H341.22M334.02 95.51H341.22M340.74 89.1V92.7M337.14 89.1H344.34M337.14 92.7H344.34M343.85 87.71V91.31M340.25 87.71H347.45M340.25 91.31H347.45M346.96 86.31V89.91M343.36 86.31H350.56M343.36 89.91H350.56M350.08 84.92V88.52M346.48 84.92H353.68M346.48 88.52H353.68M353.19 83.52V87.12M349.59 83.52H356.79M349.59 87.12H356.79M356.31 82.12V85.72M352.71 82.12H359.91M352.71 85.72H359.91M359.42 80.73V84.33M355.82 80.73H363.02M355.82 84.33H363.02M362.53 79.42V83.02M358.93 79.42H366.13M358.93 83.02H366.13M365.65 78.17V81.77M362.05 78.17H369.25M362.05 81.77H369.25M368.76 76.92V80.52M365.16 76.92H372.36M365.16 80.52H372.36M371.88 75.67V79.27M368.28 75.67H375.48M368.28 79.27H375.48M374.99 74.42V78.02M371.39 74.42H378.59M371.39 78.02H378.59M378.1 73.16V76.76M374.5 73.16H381.7M374.5 76.76H381.7M381.22 71.94V75.54M377.62 71.94H384.82M377.62 75.54H384.82M384.33 71.1V74.7M380.73 71.1H387.93M380.73 74.7H387.93M387.45 70.25V73.85M383.85 70.25H391.05M383.85 73.85H391.05M390.56 69.41V73.01M386.96 69.41H394.16M386.96 73.01H394.16M393.67 68.57V72.17M390.07 68.57H397.27M390.07 72.17H397.27M396.79 67.72V71.32M393.19 67.72H400.39M393.19 71.32H400.39M399.9 66.88V70.48M396.3 66.88H403.5M396.3 70.48H403.5M403.02 65.06V70.26M399.42 65.06H406.62M399.42 70.26H406.62M406.13 63.91V69.11M402.53 63.91H409.73M402.53 69.11H409.73M409.24 62.75V67.95M405.64 62.75H412.84M405.64 67.95H412.84M412.36 61.87V67.07M408.76 61.87H415.96M408.76 67.07H415.96M415.47 61.1V66.3M411.87 61.1H419.07M411.87 66.3H419.07M418.59 60.32V65.52M414.99 60.32H422.19M414.99 65.52H422.19M421.7 59.54V64.74M418.1 59.54H425.3M418.1 64.74H425.3M424.81 58.73V63.93M421.21 58.73H428.41M421.21 63.93H428.41M427.93 57.92V63.12M424.33 57.92H431.53M424.33 63.12H431.53M431.04 54.38V59.58M427.44 54.38H434.64M427.44 59.58H434.64M434.16 53.24V58.44M430.56 53.24H437.76M430.56 58.44H437.76M437.27 52.1V57.3M433.67 52.1H440.87M433.67 57.3H440.87M440.38 51.17V56.37M436.78 51.17H443.98M436.78 56.37H443.98M443.5 50.31V55.51M439.9 50.31H447.1M439.9 55.51H447.1M446.61 49.57V54.77M443.01 49.57H450.21M443.01 54.77H450.21M449.73 49.11V54.31M446.13 49.11H453.33M446.13 54.31H453.33M452.84 48.65V53.85M449.24 48.65H456.44M449.24 53.85H456.44M455.95 48.17V53.37M452.35 48.17H459.55M452.35 53.37H459.55M459.07 46.3V51.5M455.47 46.3H462.67M455.47 51.5H462.67M462.18 44.67V49.87M458.58 44.67H465.78M458.58 49.87H465.78M465.3 43.39V48.59M461.7 43.39H468.9M461.7 48.59H468.9M468.41 42.51V47.71M464.81 42.51H472.01M464.81 47.71H472.01M471.52 41.81V47.01M467.92 41.81H475.12M467.92 47.01H475.12" fill="none" stroke="#2020e0" stroke-width="1" opacity="1"/>
<polyline points="110.3,362.8 113.41,362.76 116.53,362.72 119.64,362.67 122.76,362.63 125.87,362.53 128.98,362.3 132.1,362.06 135.21,361.82 138.33,356.24 141.44,349.45 144.55,345.87 147.67,344.19 150.78,342.61 153.9,341.34 157.01,340.11 160.12,338.25 163.24,336.05 166.35,333.71 169.47,331.36 172.58,329.06 175.69,327.08 178.81,324.63 181.92,321.58 185.04,318.46 188.15,314.33 191.26,310.53 194.38,306.73 197.49,302.41 200.61,296.69 203.72,290.17 206.83,283.31 209.95,275.21 213.06,266.68 216.18,258.43 219.29,249.96 222.4,240.86 225.52,233.52 228.63,228.25 231.75,224.17 234.86,220.09 237.97,216 241.09,211.14 244.2,205.52 247.32,199.91 250.43,194.29 253.54,189.05 256.66,184.08 259.77,179.1 262.89,174.12 266,169.75 269.11,165.66 272.23,161.58 275.34,157.49 278.46,153.24 281.57,148.94 284.68,144.64 287.8,140.33 290.91,136.82 294.03,133.51 297.14,130.19 300.25,126.87 303.37,124 306.48,121.2 309.6,118.39 312.71,115.58 315.82,113.15 318.94,110.72 322.05,108.3 325.17,105.84 328.28,102.81 331.39,99.77 334.51,96.74 337.62,93.71 340.74,90.9 343.85,89.51 346.96,88.11 350.08,86.72 353.19,85.32 356.31,83.92 359.42,82.53 362.53,81.22 365.65,79.97 368.76,78.72 371.88,77.47 374.99,76.22 378.1,74.96 381.22,73.74 384.33,72.9 387.45,72.05 390.56,71.21 393.67,70.37 396.79,69.52 399.9,68.68 403.02,67.66 406.13,66.51 409.24,65.35 412.36,64.47 415.47,63.7 418.59,62.92 421.7,62.14 424.81,61.33 427.93,60.52 431.04,56.98 434.16,55.84 437.27,54.7 440.38,53.77 443.5,52.91 446.61,52.17 449.73,51.71 452.84,51.25 455.95,50.77 459.07,48.9 462.18,47.27 465.3,45.99 468.41,45.11 471.52,44.41" fill="none" stroke="#2020e0" stroke-width="1" stroke-linejoin="round"/>
<polyline points="110.3,357.4 111.8,356.85 113.31,356.31 114.81,355.78 116.32,355.25 117.82,354.72 119.33,354.18 120.83,353.64 122.34,353.1 123.84,352.55 125.35,351.99 126.85,351.41 128.36,350.82 129.86,350.22 131.37,349.59 132.87,348.95 134.38,348.28 135.88,347.59 137.39,346.87 138.89,346.12 140.4,345.35 141.9,344.53 143.41,343.69 144.91,342.8 146.42,341.88 147.92,340.91 149.43,339.9 150.93,338.85 152.44,337.74 153.94,336.59 155.45,335.39 156.95,334.13 158.46,332.83 159.96,331.47 161.47,330.07 162.97,328.62 164.48,327.12 165.98,325.58 167.49,323.99 168.99,322.36 170.5,320.68 172,318.97 173.5,317.21 175.01,315.41 176.51,313.57 178.02,311.69 179.52,309.78 181.03,307.83 182.53,305.84 184.04,303.82 185.54,301.76 187.05,299.67 188.55,297.55 190.06,295.4 191.56,293.21 193.07,291 194.57,288.76 196.08,286.49 197.58,284.19 199.09,281.86 200.59,279.51 202.1,277.14 203.6,274.74 205.11,272.31 206.61,269.87 208.12,267.4 209.62,264.91 211.13,262.4 212.63,259.87 214.14,257.32 215.64,254.75 217.15,252.17 218.65,249.57 220.16,246.95 221.66,244.32 223.17,241.67 224.67,239.01 226.18,236.34 227.68,233.66 229.19,230.97 230.69,228.27 232.2,225.57 233.7,222.86 235.2,220.15 236.71,217.45 238.21,214.75 239.72,212.05 241.22,209.37 242.73,206.69 244.23,204.02 245.74,201.37 247.24,198.74 248.75,196.12 250.25,193.52 251.76,190.94 253.26,188.39 254.77,185.87 256.27,183.37 257.78,180.9 259.28,178.46 260.79,176.06 262.29,173.7 263.8,171.37 265.3,169.08 266.81,166.84 268.31,164.63 269.82,162.46 271.32,160.33 272.83,158.23 274.33,156.16 275.84,154.14 277.34,152.14 278.85,150.18 280.35,148.24 281.86,146.34 283.36,144.47 284.87,142.62 286.37,140.81 287.88,139.02 289.38,137.25 290.89,135.51 292.39,133.8 293.9,132.11 295.4,130.45 296.9,128.82 298.41,127.21 299.91,125.63 301.42,124.08 302.92,122.56 304.43,121.07 305.93,119.61 307.44,118.18 308.94,116.78 310.45,115.42 311.95,114.08 313.46,112.78 314.96,111.5 316.47,110.25 317.97,109.01 319.48,107.77 320.98,106.53 322.49,105.27 323.99,104 325.5,102.69 327,101.36 328.51,100.01 330.01,98.64 331.52,97.26 333.02,95.9 334.53,94.54 336.03,93.21 337.54,91.91 339.04,90.66 340.55,89.45 342.05,88.3 343.56,87.2 345.06,86.16 346.57,85.16 348.07,84.21 349.58,83.29 351.08,82.42 352.59,81.58 354.09,80.77 355.6,79.99 357.1,79.23 358.6,78.49 360.11,77.77 361.61,77.07 363.12,76.38 364.62,75.7 366.13,75.03 367.63,74.38 369.14,73.74 370.64,73.12 372.15,72.5 373.65,71.9 375.16,71.31 376.66,70.73 378.17,70.16 379.67,69.61 381.18,69.07 382.68,68.53 384.19,68.01 385.69,67.5 387.2,67.01 388.7,66.52 390.21,66.04 391.71,65.58 393.22,65.12 394.72,64.68 396.23,64.24 397.73,63.82 399.24,63.4 400.74,63 402.25,62.6 403.75,62.22 405.26,61.84 406.76,61.48 408.27,61.12 409.77,60.77 411.28,60.43 412.78,60.1 414.29,59.78 415.79,59.46 417.3,59.16 418.8,58.86 420.3,58.57 421.81,58.29 423.31,58.02 424.82,57.75 426.32,57.49 427.83,57.24 429.33,57 430.84,56.76 432.34,56.54 433.85,56.31 435.35,56.1 436.86,55.89 438.36,55.69 439.87,55.49 441.37,55.3 442.88,55.12 444.38,54.94 445.89,54.77 447.39,54.6 448.9,54.44 450.4,54.28 451.91,54.13 453.41,53.99 454.92,53.85 456.42,53.71 457.93,53.58 459.43,53.46 460.94,53.34 462.44,53.22 463.95,53.11 465.45,53 466.96,52.89 468.46,52.79 469.97,52.69 471.47,52.6 472.98,52.51 474.48,52.42 475.99,52.34 477.49,52.25 479,52.18 480.5,52.1" fill="none" stroke="#da00f0" stroke-width="2.8" stroke-linejoin="round" stroke-linecap="round"/>
<path d="M793 332.7V337.9M789.4 332.7H796.6M789.4 337.9H796.6M796.11 331.13V336.33M792.51 331.13H799.71M792.51 336.33H799.71M799.23 329.55V334.75M795.63 329.55H802.83M795.63 334.75H802.83M802.34 327.98V333.18M798.74 327.98H805.94M798.74 333.18H805.94M805.46 325.74V330.94M801.86 325.74H809.06M801.86 330.94H809.06M808.57 323.29V328.49M804.97 323.29H812.17M804.97 328.49H812.17M811.68 320.87V326.07M808.08 320.87H815.28M808.08 326.07H815.28M814.8 318.48V323.68M811.2 318.48H818.4M811.2 323.68H818.4M817.91 315.84V321.04M814.31 315.84H821.51M814.31 321.04H821.51M821.03 313.01V318.21M817.43 313.01H824.63M817.43 318.21H824.63M824.14 309.87V315.07M820.54 309.87H827.74M820.54 315.07H827.74M827.25 306.33V311.53M823.65 306.33H830.85M823.65 311.53H830.85M830.37 302.87V306.67M826.77 302.87H833.97M826.77 306.67H833.97M833.48 297.52V301.32M829.88 297.52H837.08M829.88 301.32H837.08M836.6 291.76V295.56M833 291.76H840.2M833 295.56H840.2M839.71 285.77V289.57M836.11 285.77H843.31M836.11 289.57H843.31M842.82 275.8V279.6M839.22 275.8H846.42M839.22 279.6H846.42M845.94 264.4V268.2M842.34 264.4H849.54M842.34 268.2H849.54M849.05 255.46V259.26M845.45 255.46H852.65M845.45 259.26H852.65M852.17 246.91V250.71M848.57 246.91H855.77M848.57 250.71H855.77M855.28 238.49V242.29M851.68 238.49H858.88M851.68 242.29H858.88M858.39 229.22V233.02M854.79 229.22H861.99M854.79 233.02H861.99M861.51 223.25V227.05M857.91 223.25H865.11M857.91 227.05H865.11M864.62 218.81V222.61M861.02 218.81H868.22M861.02 222.61H868.22M867.74 215.51V219.31M864.14 215.51H871.34M864.14 219.31H871.34M870.85 211.87V215.67M867.25 211.87H874.45M867.25 215.67H874.45M873.96 208.1V211.9M870.36 208.1H877.56M870.36 211.9H877.56M877.08 204.14V207.94M873.48 204.14H880.68M873.48 207.94H880.68M880.19 200.07V203.87M876.59 200.07H883.79M876.59 203.87H883.79M883.31 195.74V199.54M879.71 195.74H886.91M879.71 199.54H886.91M886.42 191.15V194.95M882.82 191.15H890.02M882.82 194.95H890.02M889.53 186.61V190.41M885.93 186.61H893.13M885.93 190.41H893.13M892.65 182.07V185.87M889.05 182.07H896.25M889.05 185.87H896.25M895.76 177.56V181.36M892.16 177.56H899.36M892.16 181.36H899.36M898.88 173.07V176.87M895.28 173.07H902.48M895.28 176.87H902.48M901.99 168.71V172.51M898.39 168.71H905.59M898.39 172.51H905.59M905.1 163.66V168.86M901.5 163.66H908.7M901.5 168.86H908.7M908.22 159.31V164.51M904.62 159.31H911.82M904.62 164.51H911.82M911.33 155.2V160.4M907.73 155.2H914.93M907.73 160.4H914.93M914.45 151.15V156.35M910.85 151.15H918.05M910.85 156.35H918.05M917.56 147.09V152.29M913.96 147.09H921.16M913.96 152.29H921.16M920.67 143.44V148.64M917.07 143.44H924.27M917.07 148.64H924.27M923.79 139.94V145.14M920.19 139.94H927.39M920.19 145.14H927.39M926.9 136.44V141.64M923.3 136.44H930.5M923.3 141.64H930.5M930.02 133.25V138.45M926.42 133.25H933.62M926.42 138.45H933.62M933.13 130.23V135.43M929.53 130.23H936.73M929.53 135.43H936.73M936.24 127.21V132.41M932.64 127.21H939.84M932.64 132.41H939.84M939.36 124.38V129.58M935.76 124.38H942.96M935.76 129.58H942.96M942.47 121.68V126.88M938.87 121.68H946.07M938.87 126.88H946.07M945.59 118.99V124.19M941.99 118.99H949.19M941.99 124.19H949.19M948.7 116.3V121.5M945.1 116.3H952.3M945.1 121.5H952.3M951.81 113.64V118.84M948.21 113.64H955.41M948.21 118.84H955.41M954.93 110.97V116.17M951.33 110.97H958.53M951.33 116.17H958.53M958.04 108.49V113.69M954.44 108.49H961.64M954.44 113.69H961.64M961.16 106.38V111.58M957.56 106.38H964.76M957.56 111.58H964.76M964.27 104.28V109.48M960.67 104.28H967.87M960.67 109.48H967.87M967.38 102.3V107.5M963.78 102.3H970.98M963.78 107.5H970.98M970.5 100.58V105.78M966.9 100.58H974.1M966.9 105.78H974.1M973.61 98.87V104.07M970.01 98.87H977.21M970.01 104.07H977.21M976.73 97.37V102.57M973.13 97.37H980.33M973.13 102.57H980.33M979.84 96.04V101.24M976.24 96.04H983.44M976.24 101.24H983.44M982.95 94.72V99.92M979.35 94.72H986.55M979.35 99.92H986.55M986.07 93.44V98.64M982.47 93.44H989.67M982.47 98.64H989.67M989.18 92.18V97.38M985.58 92.18H992.78M985.58 97.38H992.78M992.3 90.92V96.12M988.7 90.92H995.9M988.7 96.12H995.9M995.41 89.66V94.86M991.81 89.66H999.01M991.81 94.86H999.01M998.52 88.4V93.6M994.92 88.4H1002.12M994.92 93.6H1002.12M1001.64 87.35V92.55M998.04 87.35H1005.24M998.04 92.55H1005.24M1004.75 86.4V91.6M1001.15 86.4H1008.35M1001.15 91.6H1008.35M1007.87 85.46V90.66M1004.27 85.46H1011.47M1004.27 90.66H1011.47M1010.98 84.51V89.71M1007.38 84.51H1014.58M1007.38 89.71H1014.58M1014.09 83.57V88.77M1010.49 83.57H1017.69M1010.49 88.77H1017.69M1017.21 82.72V87.92M1013.61 82.72H1020.81M1013.61 87.92H1020.81M1020.32 81.93V87.13M1016.72 81.93H1023.92M1016.72 87.13H1023.92M1023.44 81.13V86.33M1019.84 81.13H1027.04M1019.84 86.33H1027.04M1026.55 80.22V85.42M1022.95 80.22H1030.15M1022.95 85.42H1030.15M1029.66 79.32V84.52M1026.06 79.32H1033.26M1026.06 84.52H1033.26M1032.78 78.48V83.68M1029.18 78.48H1036.38M1029.18 83.68H1036.38M1035.89 77.69V82.89M1032.29 77.69H1039.49M1032.29 82.89H1039.49M1039.01 76.9V82.1M1035.41 76.9H1042.61M1035.41 82.1H1042.61M1042.12 76.11V81.31M1038.52 76.11H1045.72M1038.52 81.31H1045.72M1045.23 75.32V80.52M1041.63 75.32H1048.83M1041.63 80.52H1048.83M1048.35 74.56V79.76M1044.75 74.56H1051.95M1044.75 79.76H1051.95M1051.46 73.81V79.01M1047.86 73.81H1055.06M1047.86 79.01H1055.06" fill="none" stroke="#2020e0" stroke-width="1" opacity="1"/>
<polyline points="793,335.3 796.11,333.73 799.23,332.15 802.34,330.58 805.46,328.34 808.57,325.89 811.68,323.47 814.8,321.08 817.91,318.44 821.03,315.61 824.14,312.47 827.25,308.93 830.37,304.77 833.48,299.42 836.6,293.66 839.71,287.67 842.82,277.7 845.94,266.3 849.05,257.36 852.17,248.81 855.28,240.39 858.39,231.12 861.51,225.15 864.62,220.71 867.74,217.41 870.85,213.77 873.96,210 877.08,206.04 880.19,201.97 883.31,197.64 886.42,193.05 889.53,188.51 892.65,183.97 895.76,179.46 898.88,174.97 901.99,170.61 905.1,166.26 908.22,161.91 911.33,157.8 914.45,153.75 917.56,149.69 920.67,146.04 923.79,142.54 926.9,139.04 930.02,135.85 933.13,132.83 936.24,129.81 939.36,126.98 942.47,124.28 945.59,121.59 948.7,118.9 951.81,116.24 954.93,113.57 958.04,111.09 961.16,108.98 964.27,106.88 967.38,104.9 970.5,103.18 973.61,101.47 976.73,99.97 979.84,98.64 982.95,97.32 986.07,96.04 989.18,94.78 992.3,93.52 995.41,92.26 998.52,91 1001.64,89.95 1004.75,89 1007.87,88.06 1010.98,87.11 1014.09,86.17 1017.21,85.32 1020.32,84.53 1023.44,83.73 1026.55,82.82 1029.66,81.92 1032.78,81.08 1035.89,80.29 1039.01,79.5 1042.12,78.71 1045.23,77.92 1048.35,77.16 1051.46,76.41" fill="none" stroke="#2020e0" stroke-width="1" stroke-linejoin="round"/>
<polyline points="718.3,362.2 719.8,362.1 721.31,362 722.81,361.89 724.31,361.77 725.81,361.65 727.32,361.52 728.82,361.38 730.32,361.24 731.83,361.08 733.33,360.91 734.83,360.74 736.33,360.55 737.84,360.35 739.34,360.13 740.84,359.91 742.35,359.66 743.85,359.41 745.35,359.13 746.85,358.84 748.36,358.53 749.86,358.21 751.36,357.86 752.87,357.5 754.37,357.11 755.87,356.71 757.37,356.28 758.88,355.83 760.38,355.36 761.88,354.86 763.39,354.34 764.89,353.79 766.39,353.22 767.89,352.62 769.4,352 770.9,351.34 772.4,350.66 773.91,349.94 775.41,349.2 776.91,348.43 778.41,347.62 779.92,346.78 781.42,345.91 782.92,345 784.43,344.06 785.93,343.09 787.43,342.07 788.93,341.03 790.44,339.94 791.94,338.82 793.44,337.65 794.95,336.45 796.45,335.21 797.95,333.92 799.45,332.6 800.96,331.23 802.46,329.82 803.96,328.36 805.47,326.87 806.97,325.33 808.47,323.75 809.97,322.13 811.48,320.47 812.98,318.77 814.48,317.03 815.98,315.25 817.49,313.44 818.99,311.59 820.49,309.7 822,307.78 823.5,305.82 825,303.83 826.5,301.8 828.01,299.74 829.51,297.65 831.01,295.53 832.52,293.37 834.02,291.18 835.52,288.96 837.02,286.72 838.53,284.44 840.03,282.13 841.53,279.8 843.04,277.44 844.54,275.05 846.04,272.63 847.54,270.19 849.05,267.73 850.55,265.24 852.05,262.73 853.56,260.19 855.06,257.63 856.56,255.05 858.06,252.45 859.57,249.83 861.07,247.19 862.57,244.53 864.08,241.86 865.58,239.18 867.08,236.49 868.58,233.79 870.09,231.08 871.59,228.37 873.09,225.65 874.6,222.93 876.1,220.21 877.6,217.49 879.1,214.77 880.61,212.05 882.11,209.34 883.61,206.64 885.12,203.95 886.62,201.27 888.12,198.6 889.62,195.94 891.13,193.3 892.63,190.68 894.13,188.08 895.64,185.5 897.14,182.94 898.64,180.4 900.14,177.89 901.65,175.41 903.15,172.95 904.65,170.53 906.16,168.14 907.66,165.78 909.16,163.46 910.66,161.17 912.17,158.93 913.67,156.71 915.17,154.54 916.68,152.39 918.18,150.29 919.68,148.21 921.18,146.17 922.69,144.17 924.19,142.19 925.69,140.25 927.2,138.34 928.7,136.47 930.2,134.62 931.7,132.8 933.21,131.02 934.71,129.26 936.21,127.54 937.72,125.84 939.22,124.18 940.72,122.54 942.22,120.92 943.73,119.34 945.23,117.78 946.73,116.25 948.24,114.75 949.74,113.27 951.24,111.82 952.74,110.39 954.25,108.98 955.75,107.61 957.25,106.25 958.76,104.92 960.26,103.62 961.76,102.33 963.26,101.08 964.77,99.84 966.27,98.63 967.77,97.44 969.28,96.27 970.78,95.13 972.28,94 973.78,92.9 975.29,91.82 976.79,90.76 978.29,89.73 979.8,88.71 981.3,87.71 982.8,86.74 984.3,85.78 985.81,84.85 987.31,83.93 988.81,83.03 990.32,82.16 991.82,81.3 993.32,80.46 994.82,79.64 996.33,78.83 997.83,78.05 999.33,77.28 1000.83,76.53 1002.34,75.8 1003.84,75.08 1005.34,74.38 1006.85,73.7 1008.35,73.03 1009.85,72.38 1011.35,71.75 1012.86,71.13 1014.36,70.52 1015.86,69.93 1017.37,69.36 1018.87,68.8 1020.37,68.25 1021.87,67.72 1023.38,67.21 1024.88,66.7 1026.38,66.21 1027.89,65.73 1029.39,65.27 1030.89,64.82 1032.39,64.38 1033.9,63.95 1035.4,63.53 1036.9,63.13 1038.41,62.74 1039.91,62.36 1041.41,61.98 1042.91,61.62 1044.42,61.28 1045.92,60.94 1047.42,60.61 1048.93,60.29 1050.43,59.98 1051.93,59.68 1053.43,59.38 1054.94,59.1 1056.44,58.83 1057.94,58.56 1059.45,58.3 1060.95,58.05 1062.45,57.81 1063.95,57.57 1065.46,57.34 1066.96,57.12 1068.46,56.91 1069.97,56.7 1071.47,56.5 1072.97,56.3 1074.47,56.11 1075.98,55.92 1077.48,55.74 1078.98,55.56 1080.49,55.39 1081.99,55.23 1083.49,55.06 1084.99,54.91 1086.5,54.75 1088,54.6" fill="none" stroke="#da00f0" stroke-width="2.8" stroke-linejoin="round" stroke-linecap="round"/>
<path d="M1383.6 253.8V262.6M1379.6 253.8H1387.6M1379.6 262.6H1387.6M1386.88 253.6V262.4M1382.88 253.6H1390.88M1382.88 262.4H1390.88M1390.16 253.1V261.9M1386.16 253.1H1394.16M1386.16 261.9H1394.16M1393.44 131.2V150M1389.44 131.2H1397.44M1389.44 150H1397.44M1396.72 107.1V128.5M1392.72 107.1H1400.72M1392.72 128.5H1400.72M1400 101V123.8M1396 101H1404M1396 123.8H1404M1403.28 152.8V170.4M1399.28 152.8H1407.28M1399.28 170.4H1407.28M1406.56 196.4V209.6M1402.56 196.4H1410.56M1402.56 209.6H1410.56M1409.84 222.7V233.7M1405.84 222.7H1413.84M1405.84 233.7H1413.84M1413.12 259.7V268.3M1409.12 259.7H1417.12M1409.12 268.3H1417.12M1416.4 280.2V286.2M1412.4 280.2H1420.4M1412.4 286.2H1420.4M1419.68 292.7V297.3M1415.68 292.7H1423.68M1415.68 297.3H1423.68M1422.96 306.6V310.6M1418.96 306.6H1426.96M1418.96 310.6H1426.96M1426.24 314.6V318.6M1422.24 314.6H1430.24M1422.24 318.6H1430.24M1429.52 318.3V322.3M1425.52 318.3H1433.52M1425.52 322.3H1433.52M1432.8 321.3V325.3M1428.8 321.3H1436.8M1428.8 325.3H1436.8M1436.08 323V327M1432.08 323H1440.08M1432.08 327H1440.08M1439.36 324.2V328.2M1435.36 324.2H1443.36M1435.36 328.2H1443.36M1442.64 325V329M1438.64 325H1446.64M1438.64 329H1446.64M1445.92 323.5V327.5M1441.92 323.5H1449.92M1441.92 327.5H1449.92M1449.2 315.5V320.5M1445.2 315.5H1453.2M1445.2 320.5H1453.2M1452.48 311.5V316.5M1448.48 311.5H1456.48M1448.48 316.5H1456.48M1455.76 309V314M1451.76 309H1459.76M1451.76 314H1459.76M1459.04 304V309M1455.04 304H1463.04M1455.04 309H1463.04M1462.32 299V305M1458.32 299H1466.32M1458.32 305H1466.32M1465.6 295V302M1461.6 295H1469.6M1461.6 302H1469.6M1468.88 298V304M1464.88 298H1472.88M1464.88 304H1472.88M1472.16 302.5V308.5M1468.16 302.5H1476.16M1468.16 308.5H1476.16M1475.44 300V306M1471.44 300H1479.44M1471.44 306H1479.44M1478.72 299.5V305.5M1474.72 299.5H1482.72M1474.72 305.5H1482.72M1482 301V307M1478 301H1486M1478 307H1486M1485.28 302V308M1481.28 302H1489.28M1481.28 308H1489.28M1488.56 304V310M1484.56 304H1492.56M1484.56 310H1492.56M1491.84 306.5V312.5M1487.84 306.5H1495.84M1487.84 312.5H1495.84M1495.12 308V314M1491.12 308H1499.12M1491.12 314H1499.12M1498.4 310V316M1494.4 310H1502.4M1494.4 316H1502.4M1501.68 314V320M1497.68 314H1505.68M1497.68 320H1505.68M1504.96 316V322M1500.96 316H1508.96M1500.96 322H1508.96M1508.24 318.5V324.5M1504.24 318.5H1512.24M1504.24 324.5H1512.24M1511.52 319.5V325.5M1507.52 319.5H1515.52M1507.52 325.5H1515.52M1514.8 321.5V327.5M1510.8 321.5H1518.8M1510.8 327.5H1518.8M1518.08 323.5V329.5M1514.08 323.5H1522.08M1514.08 329.5H1522.08M1521.36 325.5V331.5M1517.36 325.5H1525.36M1517.36 331.5H1525.36M1524.64 324.5V330.5M1520.64 324.5H1528.64M1520.64 330.5H1528.64M1527.92 323.5V329.5M1523.92 323.5H1531.92M1523.92 329.5H1531.92M1531.2 322V328M1527.2 322H1535.2M1527.2 328H1535.2M1534.48 321V327M1530.48 321H1538.48M1530.48 327H1538.48M1537.76 319.5V325.5M1533.76 319.5H1541.76M1533.76 325.5H1541.76M1541.04 318V324M1537.04 318H1545.04M1537.04 324H1545.04M1544.32 317.5V323.5M1540.32 317.5H1548.32M1540.32 323.5H1548.32M1547.6 318V324M1543.6 318H1551.6M1543.6 324H1551.6M1550.88 317.5V323.5M1546.88 317.5H1554.88M1546.88 323.5H1554.88M1554.16 316.5V322.5M1550.16 316.5H1558.16M1550.16 322.5H1558.16M1557.44 315V321M1553.44 315H1561.44M1553.44 321H1561.44M1560.72 306V317M1556.72 306H1564.72M1556.72 317H1564.72M1564 309.9V315.1M1560 309.9H1568M1560 315.1H1568M1567.28 310.4V315.6M1563.28 310.4H1571.28M1563.28 315.6H1571.28M1570.56 309.9V315.1M1566.56 309.9H1574.56M1566.56 315.1H1574.56M1573.84 310.4V315.6M1569.84 310.4H1577.84M1569.84 315.6H1577.84M1577.12 307.5V317.5M1573.12 307.5H1581.12M1573.12 317.5H1581.12M1580.4 310.4V315.6M1576.4 310.4H1584.4M1576.4 315.6H1584.4M1583.68 309.9V315.1M1579.68 309.9H1587.68M1579.68 315.1H1587.68M1586.96 308.8V317.2M1582.96 308.8H1590.96M1582.96 317.2H1590.96M1590.24 309V317.4M1586.24 309H1594.24M1586.24 317.4H1594.24M1593.52 310.4V315.6M1589.52 310.4H1597.52M1589.52 315.6H1597.52M1596.8 310.6V315.8M1592.8 310.6H1600.8M1592.8 315.8H1600.8M1600.08 310.9V316.1M1596.08 310.9H1604.08M1596.08 316.1H1604.08M1603.36 311.2V316.4M1599.36 311.2H1607.36M1599.36 316.4H1607.36M1606.64 311.2V316.4M1602.64 311.2H1610.64M1602.64 316.4H1610.64M1609.92 309V316M1605.92 309H1613.92M1605.92 316H1613.92M1613.2 304.5V311.5M1609.2 304.5H1617.2M1609.2 311.5H1617.2M1616.48 298.5V305.5M1612.48 298.5H1620.48M1612.48 305.5H1620.48M1619.76 293V301M1615.76 293H1623.76M1615.76 301H1623.76M1623.04 288V296M1619.04 288H1627.04M1619.04 296H1627.04M1626.32 281.5V293.5M1622.32 281.5H1630.32M1622.32 293.5H1630.32M1629.6 283.5V293.5M1625.6 283.5H1633.6M1625.6 293.5H1633.6M1632.88 286.5V296.5M1628.88 286.5H1636.88M1628.88 296.5H1636.88M1636.16 290.5V304.5M1632.16 290.5H1640.16M1632.16 304.5H1640.16M1639.44 271.5V290.5M1635.44 271.5H1643.44M1635.44 290.5H1643.44M1642.72 274.5V288.5M1638.72 274.5H1646.72M1638.72 288.5H1646.72" fill="none" stroke="#2020e0" stroke-width="1" opacity="1"/>
<polyline points="1383.6,258.2 1386.88,258 1390.16,257.5 1393.44,140.6 1396.72,117.8 1400,112.4 1403.28,161.6 1406.56,203 1409.84,228.2 1413.12,264 1416.4,283.2 1419.68,295 1422.96,308.6 1426.24,316.6 1429.52,320.3 1432.8,323.3 1436.08,325 1439.36,326.2 1442.64,327 1445.92,325.5 1449.2,318 1452.48,314 1455.76,311.5 1459.04,306.5 1462.32,302 1465.6,298.5 1468.88,301 1472.16,305.5 1475.44,303 1478.72,302.5 1482,304 1485.28,305 1488.56,307 1491.84,309.5 1495.12,311 1498.4,313 1501.68,317 1504.96,319 1508.24,321.5 1511.52,322.5 1514.8,324.5 1518.08,326.5 1521.36,328.5 1524.64,327.5 1527.92,326.5 1531.2,325 1534.48,324 1537.76,322.5 1541.04,321 1544.32,320.5 1547.6,321 1550.88,320.5 1554.16,319.5 1557.44,318 1560.72,311.5 1564,312.5 1567.28,313 1570.56,312.5 1573.84,313 1577.12,312.5 1580.4,313 1583.68,312.5 1586.96,313 1590.24,313.2 1593.52,313 1596.8,313.2 1600.08,313.5 1603.36,313.8 1606.64,313.8 1609.92,312.5 1613.2,308 1616.48,302 1619.76,297 1623.04,292 1626.32,287.5 1629.6,288.5 1632.88,291.5 1636.16,297.5 1639.44,281 1642.72,281.5" fill="none" stroke="#2020e0" stroke-width="1" stroke-linejoin="round"/>
<polyline points="1301.3,37.3 1302.8,43.09 1304.3,48.79 1305.81,54.41 1307.31,59.94 1308.81,65.39 1310.31,70.76 1311.82,76.05 1313.32,81.25 1314.82,86.37 1316.32,91.41 1317.83,96.37 1319.33,101.25 1320.83,106.05 1322.33,110.77 1323.83,115.41 1325.34,119.98 1326.84,124.47 1328.34,128.88 1329.84,133.22 1331.35,137.48 1332.85,141.66 1334.35,145.78 1335.85,149.81 1337.36,153.78 1338.86,157.67 1340.36,161.49 1341.86,165.24 1343.36,168.91 1344.87,172.52 1346.37,176.06 1347.87,179.52 1349.37,182.92 1350.88,186.25 1352.38,189.51 1353.88,192.71 1355.38,195.84 1356.89,198.9 1358.39,201.9 1359.89,204.83 1361.39,207.7 1362.89,210.5 1364.4,213.24 1365.9,215.92 1367.4,218.53 1368.9,221.09 1370.41,223.58 1371.91,226.01 1373.41,228.39 1374.91,230.71 1376.42,232.97 1377.92,235.18 1379.42,237.33 1380.92,239.43 1382.42,241.47 1383.93,243.46 1385.43,245.4 1386.93,247.29 1388.43,249.13 1389.94,250.92 1391.44,252.66 1392.94,254.35 1394.44,256 1395.95,257.6 1397.45,259.16 1398.95,260.67 1400.45,262.15 1401.95,263.58 1403.46,264.97 1404.96,266.32 1406.46,267.64 1407.96,268.92 1409.47,270.17 1410.97,271.38 1412.47,272.56 1413.97,273.72 1415.48,274.85 1416.98,275.94 1418.48,277.02 1419.98,278.07 1421.48,279.09 1422.99,280.1 1424.49,281.08 1425.99,282.05 1427.49,283 1429,283.93 1430.5,284.85 1432,285.75 1433.5,286.64 1435.01,287.5 1436.51,288.36 1438.01,289.19 1439.51,290.01 1441.01,290.82 1442.52,291.61 1444.02,292.38 1445.52,293.14 1447.02,293.88 1448.53,294.61 1450.03,295.32 1451.53,296.01 1453.03,296.7 1454.54,297.36 1456.04,298.02 1457.54,298.65 1459.04,299.27 1460.54,299.88 1462.05,300.48 1463.55,301.06 1465.05,301.62 1466.55,302.17 1468.06,302.71 1469.56,303.23 1471.06,303.74 1472.56,304.24 1474.07,304.72 1475.57,305.19 1477.07,305.64 1478.57,306.08 1480.07,306.51 1481.58,306.93 1483.08,307.34 1484.58,307.73 1486.08,308.12 1487.59,308.49 1489.09,308.85 1490.59,309.2 1492.09,309.54 1493.6,309.86 1495.1,310.18 1496.6,310.49 1498.1,310.79 1499.6,311.08 1501.11,311.36 1502.61,311.63 1504.11,311.89 1505.61,312.15 1507.12,312.39 1508.62,312.63 1510.12,312.86 1511.62,313.08 1513.13,313.3 1514.63,313.5 1516.13,313.71 1517.63,313.9 1519.13,314.09 1520.64,314.27 1522.14,314.45 1523.64,314.62 1525.14,314.78 1526.65,314.94 1528.15,315.09 1529.65,315.24 1531.15,315.39 1532.66,315.53 1534.16,315.67 1535.66,315.8 1537.16,315.93 1538.66,316.05 1540.17,316.17 1541.67,316.29 1543.17,316.4 1544.67,316.51 1546.18,316.61 1547.68,316.71 1549.18,316.81 1550.68,316.9 1552.19,316.99 1553.69,317.07 1555.19,317.16 1556.69,317.23 1558.19,317.31 1559.7,317.38 1561.2,317.45 1562.7,317.52 1564.2,317.58 1565.71,317.64 1567.21,317.7 1568.71,317.75 1570.21,317.8 1571.72,317.85 1573.22,317.9 1574.72,317.94 1576.22,317.98 1577.72,318.02 1579.23,318.06 1580.73,318.09 1582.23,318.12 1583.73,318.15 1585.24,318.18 1586.74,318.2 1588.24,318.22 1589.74,318.24 1591.25,318.26 1592.75,318.28 1594.25,318.29 1595.75,318.31 1597.25,318.32 1598.76,318.33 1600.26,318.34 1601.76,318.34 1603.26,318.35 1604.77,318.35 1606.27,318.36 1607.77,318.36 1609.27,318.36 1610.78,318.36 1612.28,318.36 1613.78,318.35 1615.28,318.35 1616.78,318.35 1618.29,318.34 1619.79,318.34 1621.29,318.33 1622.79,318.32 1624.3,318.32 1625.8,318.31 1627.3,318.3 1628.8,318.29 1630.31,318.28 1631.81,318.27 1633.31,318.26 1634.81,318.26 1636.31,318.25 1637.82,318.24 1639.32,318.23 1640.82,318.22 1642.32,318.21 1643.83,318.2 1645.33,318.2 1646.83,318.19 1648.33,318.18 1649.84,318.18 1651.34,318.17 1652.84,318.17 1654.34,318.16 1655.84,318.16 1657.35,318.16 1658.85,318.15 1660.35,318.15 1661.85,318.16 1663.36,318.16 1664.86,318.16 1666.36,318.17 1667.86,318.17 1669.37,318.18 1670.87,318.19 1672.37,318.2 1673.87,318.21 1675.37,318.22 1676.88,318.24 1678.38,318.25 1679.88,318.27 1681.38,318.29 1682.89,318.32 1684.39,318.34 1685.89,318.37 1687.39,318.4 1688.9,318.43 1690.4,318.46 1691.9,318.5" fill="none" stroke="#da00f0" stroke-width="2.8" stroke-linejoin="round" stroke-linecap="round"/>
<polyline points="1301.3,125.3 1302.8,127.63 1304.3,129.96 1305.81,132.31 1307.31,134.67 1308.81,137.04 1310.31,139.41 1311.82,141.8 1313.32,144.19 1314.82,146.59 1316.32,148.99 1317.83,151.41 1319.33,153.82 1320.83,156.24 1322.33,158.66 1323.83,161.09 1325.34,163.52 1326.84,165.95 1328.34,168.38 1329.84,170.81 1331.35,173.24 1332.85,175.67 1334.35,178.1 1335.85,180.53 1337.36,182.95 1338.86,185.37 1340.36,187.77 1341.86,190.17 1343.36,192.55 1344.87,194.92 1346.37,197.27 1347.87,199.6 1349.37,201.91 1350.88,204.2 1352.38,206.46 1353.88,208.69 1355.38,210.9 1356.89,213.07 1358.39,215.2 1359.89,217.31 1361.39,219.37 1362.89,221.39 1364.4,223.37 1365.9,225.3 1367.4,227.19 1368.9,229.05 1370.41,230.86 1371.91,232.63 1373.41,234.36 1374.91,236.05 1376.42,237.71 1377.92,239.33 1379.42,240.92 1380.92,242.47 1382.42,243.99 1383.93,245.47 1385.43,246.92 1386.93,248.35 1388.43,249.74 1389.94,251.11 1391.44,252.44 1392.94,253.75 1394.44,255.04 1395.95,256.3 1397.45,257.53 1398.95,258.74 1400.45,259.93 1401.95,261.1 1403.46,262.24 1404.96,263.37 1406.46,264.48 1407.96,265.56 1409.47,266.64 1410.97,267.69 1412.47,268.73 1413.97,269.76 1415.48,270.77 1416.98,271.78 1418.48,272.76 1419.98,273.74 1421.48,274.71 1422.99,275.67 1424.49,276.62 1425.99,277.57 1427.49,278.51 1429,279.44 1430.5,280.37 1432,281.28 1433.5,282.19 1435.01,283.09 1436.51,283.98 1438.01,284.86 1439.51,285.73 1441.01,286.58 1442.52,287.42 1444.02,288.25 1445.52,289.06 1447.02,289.85 1448.53,290.63 1450.03,291.39 1451.53,292.13 1453.03,292.86 1454.54,293.56 1456.04,294.25 1457.54,294.92 1459.04,295.57 1460.54,296.2 1462.05,296.82 1463.55,297.42 1465.05,298.01 1466.55,298.58 1468.06,299.14 1469.56,299.69 1471.06,300.22 1472.56,300.74 1474.07,301.24 1475.57,301.73 1477.07,302.21 1478.57,302.68 1480.07,303.14 1481.58,303.58 1483.08,304.01 1484.58,304.44 1486.08,304.85 1487.59,305.25 1489.09,305.65 1490.59,306.03 1492.09,306.4 1493.6,306.77 1495.1,307.13 1496.6,307.48 1498.1,307.82 1499.6,308.15 1501.11,308.48 1502.61,308.8 1504.11,309.11 1505.61,309.42 1507.12,309.72 1508.62,310.01 1510.12,310.3 1511.62,310.59 1513.13,310.87 1514.63,311.15 1516.13,311.42 1517.63,311.69 1519.13,311.95 1520.64,312.22 1522.14,312.48 1523.64,312.73 1525.14,312.99 1526.65,313.24 1528.15,313.5 1529.65,313.75 1531.15,314 1532.66,314.25 1534.16,314.5 1535.66,314.74 1537.16,314.99 1538.66,315.24 1540.17,315.48 1541.67,315.72 1543.17,315.96 1544.67,316.2 1546.18,316.44 1547.68,316.68 1549.18,316.91 1550.68,317.15 1552.19,317.38 1553.69,317.61 1555.19,317.83 1556.69,318.06 1558.19,318.28 1559.7,318.5 1561.2,318.71 1562.7,318.93 1564.2,319.14 1565.71,319.34 1567.21,319.55 1568.71,319.75 1570.21,319.95 1571.72,320.14 1573.22,320.34 1574.72,320.52 1576.22,320.71 1577.72,320.89 1579.23,321.07 1580.73,321.24 1582.23,321.41 1583.73,321.57 1585.24,321.73 1586.74,321.89 1588.24,322.04 1589.74,322.19 1591.25,322.33 1592.75,322.47 1594.25,322.6 1595.75,322.73 1597.25,322.86 1598.76,322.97 1600.26,323.09 1601.76,323.2 1603.26,323.3 1604.77,323.39 1606.27,323.49 1607.77,323.57 1609.27,323.65 1610.78,323.73 1612.28,323.79 1613.78,323.86 1615.28,323.91 1616.78,323.96 1618.29,324.01 1619.79,324.05 1621.29,324.08 1622.79,324.11 1624.3,324.14 1625.8,324.16 1627.3,324.18 1628.8,324.19 1630.31,324.2 1631.81,324.21 1633.31,324.21 1634.81,324.22 1636.31,324.22 1637.82,324.21 1639.32,324.21 1640.82,324.2 1642.32,324.19 1643.83,324.18 1645.33,324.17 1646.83,324.16 1648.33,324.15 1649.84,324.14 1651.34,324.13 1652.84,324.12 1654.34,324.11 1655.84,324.1 1657.35,324.09 1658.85,324.09 1660.35,324.08 1661.85,324.08 1663.36,324.08 1664.86,324.08 1666.36,324.08 1667.86,324.09 1669.37,324.1 1670.87,324.11 1672.37,324.13 1673.87,324.15 1675.37,324.18 1676.88,324.21 1678.38,324.24 1679.88,324.28 1681.38,324.32 1682.89,324.37 1684.39,324.43 1685.89,324.49 1687.39,324.56 1688.9,324.63 1690.4,324.71 1691.9,324.8" fill="none" stroke="#da00f0" stroke-width="2.8" stroke-linejoin="round" stroke-linecap="round"/>
<polyline points="282.1,654.7 283.62,655.02 285.13,655.44 286.65,655.95 288.16,656.55 289.68,657.24 291.19,658.01 292.71,658.87 294.22,659.81 295.74,660.83 297.25,661.93 298.77,663.1 300.28,664.36 301.8,665.68 303.32,667.08 304.83,668.55 306.35,670.09 307.86,671.7 309.38,673.37 310.89,675.11 312.41,676.9 313.92,678.76 315.44,680.68 316.95,682.65 318.47,684.68 319.98,686.77 321.5,688.9 323.02,691.09 324.53,693.32 326.05,695.61 327.56,697.93 329.08,700.3 330.59,702.72 332.11,705.17 333.62,707.66 335.14,710.19 336.65,712.75 338.17,715.35 339.68,717.97 341.2,720.63 342.72,723.32 344.23,726.03 345.75,728.77 347.26,731.53 348.78,734.31 350.29,737.11 351.81,739.94 353.32,742.77 354.84,745.62 356.35,748.49 357.87,751.36 359.38,754.25 360.9,757.14 362.42,760.04 363.93,762.95 365.45,765.85 366.96,768.76 368.48,771.67 369.99,774.57 371.51,777.48 373.02,780.37 374.54,783.26 376.05,786.14 377.57,789.01 379.08,791.86 380.6,794.71 382.12,797.53 383.63,800.34 385.15,803.13 386.66,805.9 388.18,808.65 389.69,811.37 391.21,814.06 392.72,816.73 394.24,819.37 395.75,821.98 397.27,824.55 398.78,827.09 400.3,829.6 401.81,831.44 403.31,833.24 404.82,835.03 406.33,836.78 407.83,838.51 409.34,840.21 410.84,841.88 412.35,843.53 413.86,845.15 415.36,846.75 416.87,848.32 418.38,849.87 419.88,851.39 421.39,852.89 422.9,854.36 424.4,855.81 425.91,857.24 427.41,858.63 428.92,860.01 430.43,861.36 431.93,862.69 433.44,864 434.95,865.28 436.45,866.54 437.96,867.77 439.47,868.99 440.97,870.18 442.48,871.35 443.98,872.49 445.49,873.62 447,874.72 448.5,875.8 450.01,876.86 451.52,877.9 453.02,878.92 454.53,879.91 456.04,880.89 457.54,881.84 459.05,882.78 460.55,883.69 462.06,884.59 463.57,885.46 465.07,886.32 466.58,887.16 468.09,887.97 469.59,888.77 471.1,889.55 472.61,890.31 474.11,891.05 475.62,891.78 477.12,892.48 478.63,893.17 480.14,893.84 481.64,894.49 483.15,895.13 484.66,895.74 486.16,896.34 487.67,896.93 489.18,897.49 490.68,898.05 492.19,898.58 493.7,899.1 495.2,899.6 496.71,900.09 498.21,900.56 499.72,901.01 501.23,901.45 502.73,901.88 504.24,902.29 505.75,902.68 507.25,903.06 508.76,903.43 510.27,903.78 511.77,904.12 513.28,904.45 514.78,904.76 516.29,905.05 517.8,905.34 519.3,905.61 520.81,905.87 522.32,906.11 523.82,906.35 525.33,906.57 526.84,906.78 528.34,906.97 529.85,907.16 531.35,907.33 532.86,907.49 534.37,907.65 535.87,907.78 537.38,907.91 538.89,908.03 540.39,908.14 541.9,908.24 543.41,908.32 544.91,908.4 546.42,908.47 547.92,908.53 549.43,908.57 550.94,908.61 552.44,908.64 553.95,908.66 555.46,908.68 556.96,908.68 558.47,908.67 559.98,908.66 561.48,908.64 562.99,908.61 564.49,908.58 566,908.53 567.51,908.48 569.01,908.42 570.52,908.36 572.03,908.29 573.53,908.21 575.04,908.13 576.55,908.03 578.05,907.94 579.56,907.84 581.06,907.73 582.57,907.61 584.08,907.5 585.58,907.37 587.09,907.24 588.6,907.11 590.1,906.97 591.61,906.83 593.12,906.68 594.62,906.53 596.13,906.38 597.63,906.22 599.14,906.06 600.65,905.89 602.15,905.73 603.66,905.55 605.17,905.38 606.67,905.21 608.18,905.03 609.69,904.85 611.19,904.66 612.7,904.48 614.2,904.29 615.71,904.11 617.22,903.92 618.72,903.73 620.23,903.54 621.74,903.34 623.24,903.15 624.75,902.96 626.26,902.77 627.76,902.57 629.27,902.38 630.77,902.19 632.28,902 633.79,901.81 635.29,901.62 636.8,901.43 638.31,901.24 639.81,901.05 641.32,900.87 642.83,900.69 644.33,900.51 645.84,900.33 647.35,900.15 648.85,899.98 650.36,899.81 651.86,899.64 653.37,899.47 654.88,899.31 656.38,899.15 657.89,899 659.4,898.85 660.9,898.7 662.41,898.56 663.92,898.42 665.42,898.29 666.93,898.16 668.43,898.03 669.94,897.91 671.45,897.8 672.95,897.69 674.46,897.59 675.97,897.49 677.47,897.4 678.98,897.31 680.49,897.23 681.99,897.16 683.5,897.1 685,897.04 686.51,896.98 688.02,896.94 689.52,896.9 691.03,896.87 692.54,896.85 694.04,896.84 695.55,896.83 697.06,896.84 698.56,896.85 700.07,896.87 701.57,896.9 703.08,896.93 704.59,896.98 706.09,897.04 707.6,897.1" fill="none" stroke="#d60000" stroke-width="3" stroke-linejoin="round" stroke-linecap="round"/>
<polyline points="282.1,709.2 283.6,709.31 285.1,709.51 286.6,709.8 288.1,710.17 289.6,710.63 291.1,711.16 292.6,711.78 294.1,712.47 295.6,713.23 297.1,714.07 298.6,714.98 300.1,715.96 301.6,717.01 303.1,718.13 304.6,719.3 306.1,720.54 307.6,721.84 309.1,723.2 310.6,724.62 312.1,726.09 313.6,727.61 315.1,729.18 316.6,730.81 318.1,732.48 319.6,734.19 321.1,735.95 322.6,737.75 324.1,739.59 325.6,741.47 327.1,743.38 328.6,745.33 330.1,747.31 331.6,749.32 333.1,751.36 334.6,753.43 336.1,755.52 337.6,757.64 339.1,759.77 340.6,761.93 342.1,764.1 343.6,766.29 345.1,768.49 346.6,770.7 348.1,772.92 349.6,775.16 351.1,777.39 352.6,779.64 354.1,781.88 355.6,784.13 357.1,786.37 358.6,788.62 360.1,790.86 361.6,793.1 363.1,795.34 364.6,797.58 366.1,799.81 367.6,802.03 369.1,804.25 370.6,806.46 372.1,808.66 373.6,810.85 375.1,813.03 376.6,815.2 378.1,817.36 379.6,819.5 381.1,821.63 382.6,823.75 384.1,825.84 385.6,827.93 387.1,829.99 388.6,832.04 390.1,834.07 391.6,836.07 393.1,838.06 394.6,840.02 396.1,841.96 397.6,843.88 399.1,845.77 400.6,847.64 402.1,849.48 403.6,851.29 405.1,853.07 406.6,854.83 408.1,856.55 409.6,858.25 411.1,859.91 412.6,861.54 414.1,863.15 415.6,864.72 417.1,866.26 418.6,867.78 420.1,869.26 421.6,870.71 423.1,872.12 424.6,873.51 426.1,874.87 427.6,876.19 429.1,877.48 430.6,878.74 432.1,879.96 433.6,881.16 435.1,882.32 436.6,883.44 438.1,884.54 439.6,885.6 441.11,887.63 442.61,889.62 444.12,891.59 445.62,893.52 447.13,895.43 448.63,897.3 450.14,899.14 451.64,900.96 453.15,902.75 454.66,904.5 456.16,906.23 457.67,907.93 459.17,909.61 460.68,911.25 462.18,912.87 463.69,914.46 465.2,916.03 466.7,917.57 468.21,919.08 469.71,920.57 471.22,922.03 472.72,923.47 474.23,924.88 475.73,926.27 477.24,927.63 478.75,928.97 480.25,930.29 481.76,931.58 483.26,932.85 484.77,934.1 486.27,935.32 487.78,936.52 489.29,937.7 490.79,938.86 492.3,940 493.8,941.12 495.31,942.21 496.81,943.29 498.32,944.34 499.82,945.38 501.33,946.4 502.84,947.4 504.34,948.37 505.85,949.33 507.35,950.28 508.86,951.2 510.36,952.11 511.87,953 513.38,953.87 514.88,954.72 516.39,955.56 517.89,956.39 519.4,957.19 520.9,957.98 522.41,958.76 523.91,959.52 525.42,960.27 526.93,961 528.43,961.72 529.94,962.42 531.44,963.11 532.95,963.79 534.45,964.45 535.96,965.11 537.47,965.75 538.97,966.37 540.48,966.99 541.98,967.59 543.49,968.19 544.99,968.77 546.5,969.34 548,969.91 549.51,970.46 551.02,971 552.52,971.53 554.03,972.06 555.53,972.57 557.04,973.08 558.54,973.58 560.05,974.07 561.56,974.55 563.06,975.02 564.57,975.49 566.07,975.94 567.58,976.39 569.08,976.83 570.59,977.27 572.09,977.69 573.6,978.11 575.11,978.52 576.61,978.92 578.12,979.31 579.62,979.7 581.13,980.08 582.63,980.46 584.14,980.82 585.64,981.18 587.15,981.53 588.66,981.88 590.16,982.22 591.67,982.55 593.17,982.88 594.68,983.19 596.18,983.51 597.69,983.81 599.2,984.12 600.7,984.41 602.21,984.7 603.71,984.98 605.22,985.26 606.72,985.53 608.23,985.8 609.73,986.06 611.24,986.31 612.75,986.56 614.25,986.81 615.76,987.05 617.26,987.28 618.77,987.51 620.27,987.73 621.78,987.95 623.29,988.17 624.79,988.38 626.3,988.59 627.8,988.79 629.31,988.99 630.81,989.18 632.32,989.37 633.82,989.55 635.33,989.73 636.84,989.91 638.34,990.09 639.85,990.26 641.35,990.42 642.86,990.58 644.36,990.74 645.87,990.9 647.38,991.05 648.88,991.2 650.39,991.35 651.89,991.49 653.4,991.64 654.9,991.77 656.41,991.91 657.91,992.04 659.42,992.17 660.93,992.3 662.43,992.43 663.94,992.55 665.44,992.67 666.95,992.79 668.45,992.91 669.96,993.03 671.47,993.14 672.97,993.26 674.48,993.37 675.98,993.48 677.49,993.58 678.99,993.69 680.5,993.8 682,993.9 683.51,994.01 685.02,994.11 686.52,994.21 688.03,994.31 689.53,994.41 691.04,994.51 692.54,994.61 694.05,994.71 695.56,994.81 697.06,994.91 698.57,995.01 700.07,995.11 701.58,995.21 703.08,995.3 704.59,995.4 706.09,995.5 707.6,995.6" fill="none" stroke="#d60000" stroke-width="3" stroke-linejoin="round" stroke-linecap="round"/>
<polyline points="1064.7,940 1066.22,938.66 1067.74,937.32 1069.26,935.97 1070.78,934.61 1072.3,933.25 1073.81,931.88 1075.33,930.51 1076.85,929.14 1078.37,927.76 1079.89,926.38 1081.41,924.99 1082.93,923.61 1084.45,922.22 1085.97,920.82 1087.49,919.43 1089.01,918.03 1090.53,916.63 1092.04,915.23 1093.56,913.83 1095.08,912.42 1096.6,911.02 1098.12,909.61 1099.64,908.21 1101.16,906.8 1102.68,905.4 1104.2,903.99 1105.72,902.59 1107.24,901.19 1108.75,899.79 1110.27,898.39 1111.79,896.99 1113.31,895.59 1114.83,894.2 1116.35,892.81 1117.87,891.42 1119.39,890.03 1120.91,888.65 1122.43,887.27 1123.95,885.9 1125.46,884.53 1126.98,883.16 1128.5,881.8 1130.02,880.45 1131.54,879.1 1133.06,877.75 1134.58,876.41 1136.1,875.08 1137.62,873.75 1139.14,872.43 1140.66,871.12 1142.17,869.81 1143.69,868.51 1145.21,867.21 1146.73,865.93 1148.25,864.65 1149.77,863.38 1151.29,862.12 1152.81,860.87 1154.33,859.63 1155.85,858.4 1157.37,857.17 1158.89,855.96 1160.4,854.76 1161.92,853.57 1163.44,852.38 1164.96,851.21 1166.48,850.05 1168,848.9 1169.5,846.95 1171.01,844.98 1172.51,843 1174.02,841.01 1175.52,839.01 1177.02,837.01 1178.53,835 1180.03,832.99 1181.54,830.98 1183.04,828.97 1184.54,826.96 1186.05,824.95 1187.55,822.95 1189.06,820.95 1190.56,818.97 1192.07,816.99 1193.57,815.02 1195.07,813.07 1196.58,811.13 1198.08,809.21 1199.59,807.3 1201.09,805.42 1202.59,803.55 1204.1,801.71 1205.6,799.89 1207.11,798.09 1208.61,796.32 1210.11,794.56 1211.62,792.83 1213.12,791.12 1214.63,789.43 1216.13,787.75 1217.63,786.1 1219.14,784.46 1220.64,782.83 1222.15,781.22 1223.65,779.63 1225.15,778.05 1226.66,776.49 1228.16,774.93 1229.67,773.39 1231.17,771.86 1232.67,770.34 1234.18,768.83 1235.68,767.33 1237.19,765.83 1238.69,764.34 1240.2,762.86 1241.7,761.39 1243.2,759.92 1244.71,758.46 1246.21,757 1247.72,755.55 1249.22,754.11 1250.72,752.67 1252.23,751.24 1253.73,749.81 1255.24,748.4 1256.74,746.99 1258.24,745.58 1259.75,744.19 1261.25,742.8 1262.76,741.42 1264.26,740.04 1265.76,738.68 1267.27,737.32 1268.77,735.97 1270.28,734.62 1271.78,733.29 1273.28,731.96 1274.79,730.64 1276.29,729.33 1277.8,728.03 1279.3,726.74 1280.8,725.46 1282.31,724.18 1283.81,722.92 1285.32,721.66 1286.82,720.41 1288.33,719.17 1289.83,717.94 1291.33,716.73 1292.84,715.52 1294.34,714.32 1295.85,713.13 1297.35,711.95 1298.85,710.78 1300.36,709.62 1301.86,708.47 1303.37,707.33 1304.87,706.21 1306.37,705.09 1307.88,703.98 1309.38,702.89 1310.89,701.81 1312.39,700.73 1313.89,699.67 1315.4,698.62 1316.9,697.58 1318.41,696.55 1319.91,695.53 1321.41,694.52 1322.92,693.52 1324.42,692.54 1325.93,691.56 1327.43,690.59 1328.93,689.64 1330.44,688.69 1331.94,687.75 1333.45,686.83 1334.95,685.91 1336.46,685.01 1337.96,684.11 1339.46,683.22 1340.97,682.35 1342.47,681.48 1343.98,680.62 1345.48,679.78 1346.98,678.94 1348.49,678.11 1349.99,677.29 1351.5,676.49 1353,675.69 1354.5,674.9 1356.01,674.12 1357.51,673.34 1359.02,672.58 1360.52,671.83 1362.02,671.08 1363.53,670.35 1365.03,669.62 1366.54,668.91 1368.04,668.2 1369.54,667.5 1371.05,666.81 1372.55,666.13 1374.06,665.45 1375.56,664.79 1377.07,664.13 1378.57,663.48 1380.07,662.84 1381.58,662.21 1383.08,661.59 1384.59,660.98 1386.09,660.37 1387.59,659.77 1389.1,659.18 1390.6,658.6 1392.11,658.03 1393.61,657.46 1395.11,656.9 1396.62,656.35 1398.12,655.81 1399.63,655.27 1401.13,654.75 1402.63,654.23 1404.14,653.71 1405.64,653.21 1407.15,652.71 1408.65,652.22 1410.15,651.74 1411.66,651.26 1413.16,650.79 1414.67,650.33 1416.17,649.88 1417.67,649.43 1419.18,648.99 1420.68,648.56 1422.19,648.13 1423.69,647.71 1425.2,647.3 1426.7,646.9 1428.2,646.5 1429.71,646.1 1431.21,645.72 1432.72,645.34 1434.22,644.97 1435.72,644.6 1437.23,644.24 1438.73,643.88 1440.24,643.54 1441.74,643.19 1443.24,642.86 1444.75,642.53 1446.25,642.21 1447.76,641.89 1449.26,641.58 1450.76,641.27 1452.27,640.97 1453.77,640.68 1455.28,640.39 1456.78,640.1 1458.28,639.83 1459.79,639.55 1461.29,639.29 1462.8,639.03 1464.3,638.77 1465.8,638.52 1467.31,638.27 1468.81,638.03 1470.32,637.8 1471.82,637.57 1473.33,637.34 1474.83,637.12 1476.33,636.91 1477.84,636.7 1479.34,636.49 1480.85,636.29 1482.35,636.09 1483.85,635.9 1485.36,635.71 1486.86,635.53 1488.37,635.35 1489.87,635.18 1491.37,635.01 1492.88,634.84 1494.38,634.68 1495.89,634.53 1497.39,634.37 1498.89,634.22 1500.4,634.08 1501.9,633.94 1503.41,633.8 1504.91,633.67 1506.41,633.54 1507.92,633.41 1509.42,633.29 1510.93,633.17 1512.43,633.06 1513.93,632.95 1515.44,632.84 1516.94,632.74 1518.45,632.63 1519.95,632.54 1521.46,632.44 1522.96,632.35 1524.46,632.26 1525.97,632.18 1527.47,632.1 1528.98,632.02 1530.48,631.94 1531.98,631.87 1533.49,631.8 1534.99,631.73 1536.5,631.66 1538,631.6" fill="none" stroke="#0000ec" stroke-width="3" stroke-linejoin="round" stroke-linecap="round"/>
<polyline points="1064.9,994.8 1066.42,993.28 1067.93,991.74 1069.45,990.18 1070.96,988.61 1072.48,987.02 1073.99,985.42 1075.51,983.8 1077.02,982.16 1078.54,980.51 1080.05,978.85 1081.57,977.16 1083.08,975.47 1084.6,973.76 1086.11,972.04 1087.63,970.3 1089.14,968.56 1090.66,966.8 1092.17,965.02 1093.69,963.24 1095.2,961.44 1096.72,959.63 1098.23,957.81 1099.75,955.98 1101.26,954.14 1102.78,952.29 1104.29,950.43 1105.81,948.56 1107.32,946.68 1108.84,944.8 1110.35,942.9 1111.87,941 1113.38,939.09 1114.9,937.17 1116.41,935.24 1117.93,933.31 1119.44,931.37 1120.96,929.42 1122.47,927.47 1123.99,925.51 1125.5,923.55 1127.02,921.58 1128.53,919.61 1130.05,917.63 1131.56,915.65 1133.08,913.66 1134.59,911.68 1136.11,909.69 1137.62,907.69 1139.14,905.7 1140.65,903.7 1142.17,901.7 1143.68,899.7 1145.2,897.69 1146.71,895.69 1148.23,893.69 1149.74,891.68 1151.26,889.68 1152.77,887.67 1154.29,885.67 1155.8,883.67 1157.32,881.67 1158.83,879.67 1160.35,877.67 1161.86,875.68 1163.38,873.69 1164.89,871.7 1166.41,869.71 1167.92,867.73 1169.44,865.75 1170.95,863.78 1172.47,861.81 1173.98,859.85 1175.5,857.89 1177.01,855.93 1178.53,853.99 1180.04,852.05 1181.56,850.11 1183.07,848.18 1184.59,846.26 1186.1,844.35 1187.62,842.44 1189.13,840.55 1190.65,838.66 1192.16,836.78 1193.68,834.91 1195.19,833.04 1196.71,831.19 1198.22,829.35 1199.74,827.52 1201.25,825.7 1202.77,823.88 1204.28,822.09 1205.8,820.3 1207.3,819.27 1208.8,818.24 1210.31,817.23 1211.81,816.22 1213.31,815.22 1214.81,814.22 1216.32,813.24 1217.82,812.27 1219.32,811.3 1220.82,810.34 1222.32,809.39 1223.83,808.45 1225.33,807.52 1226.83,806.59 1228.33,805.67 1229.84,804.76 1231.34,803.86 1232.84,802.97 1234.34,802.08 1235.85,801.21 1237.35,800.34 1238.85,799.48 1240.35,798.62 1241.85,797.78 1243.36,796.94 1244.86,796.11 1246.36,795.28 1247.86,794.47 1249.37,793.66 1250.87,792.86 1252.37,792.07 1253.87,791.28 1255.37,790.51 1256.88,789.74 1258.38,788.97 1259.88,788.22 1261.38,787.47 1262.89,786.73 1264.39,786 1265.89,785.27 1267.39,784.55 1268.9,783.84 1270.4,783.14 1271.9,782.44 1273.4,781.75 1274.9,781.06 1276.41,780.39 1277.91,779.72 1279.41,779.05 1280.91,778.4 1282.42,777.75 1283.92,777.11 1285.42,776.47 1286.92,775.84 1288.42,775.22 1289.93,774.6 1291.43,773.99 1292.93,773.39 1294.43,772.79 1295.94,772.2 1297.44,771.62 1298.94,771.04 1300.44,770.47 1301.94,769.91 1303.45,769.35 1304.95,768.8 1306.45,768.25 1307.95,767.71 1309.46,767.18 1310.96,766.65 1312.46,766.13 1313.96,765.61 1315.47,765.1 1316.97,764.6 1318.47,764.1 1319.97,763.61 1321.47,763.12 1322.98,762.64 1324.48,762.17 1325.98,761.7 1327.48,761.23 1328.99,760.78 1330.49,760.33 1331.99,759.88 1333.49,759.44 1334.99,759 1336.5,758.57 1338,758.15 1339.5,757.73 1341,757.31 1342.51,756.91 1344.01,756.5 1345.51,756.1 1347.01,755.71 1348.51,755.32 1350.02,754.94 1351.52,754.56 1353.02,754.19 1354.52,753.82 1356.03,753.46 1357.53,753.1 1359.03,752.75 1360.53,752.4 1362.04,752.06 1363.54,751.72 1365.04,751.39 1366.54,751.06 1368.04,750.73 1369.55,750.41 1371.05,750.1 1372.55,749.79 1374.05,749.48 1375.56,749.18 1377.06,748.88 1378.56,748.59 1380.06,748.3 1381.56,748.01 1383.07,747.73 1384.57,747.46 1386.07,747.19 1387.57,746.92 1389.08,746.66 1390.58,746.4 1392.08,746.14 1393.58,745.89 1395.09,745.64 1396.59,745.4 1398.09,745.16 1399.59,744.93 1401.09,744.7 1402.6,744.47 1404.1,744.24 1405.6,744.02 1407.1,743.81 1408.61,743.59 1410.11,743.38 1411.61,743.18 1413.11,742.98 1414.61,742.78 1416.12,742.58 1417.62,742.39 1419.12,742.2 1420.62,742.02 1422.13,741.84 1423.63,741.66 1425.13,741.48 1426.63,741.31 1428.13,741.14 1429.64,740.97 1431.14,740.81 1432.64,740.65 1434.14,740.49 1435.65,740.34 1437.15,740.19 1438.65,740.04 1440.15,739.9 1441.66,739.75 1443.16,739.62 1444.66,739.48 1446.16,739.34 1447.66,739.21 1449.17,739.08 1450.67,738.96 1452.17,738.83 1453.67,738.71 1455.18,738.6 1456.68,738.48 1458.18,738.37 1459.68,738.25 1461.18,738.14 1462.69,738.04 1464.19,737.93 1465.69,737.83 1467.19,737.73 1468.7,737.63 1470.2,737.54 1471.7,737.44 1473.2,737.35 1474.7,737.26 1476.21,737.17 1477.71,737.09 1479.21,737 1480.71,736.92 1482.22,736.84 1483.72,736.76 1485.22,736.69 1486.72,736.61 1488.23,736.54 1489.73,736.47 1491.23,736.4 1492.73,736.33 1494.23,736.26 1495.74,736.2 1497.24,736.13 1498.74,736.07 1500.24,736.01 1501.75,735.95 1503.25,735.89 1504.75,735.83 1506.25,735.77 1507.75,735.72 1509.26,735.66 1510.76,735.61 1512.26,735.56 1513.76,735.51 1515.27,735.46 1516.77,735.41 1518.27,735.36 1519.77,735.31 1521.28,735.27 1522.78,735.22 1524.28,735.18 1525.78,735.13 1527.28,735.09 1528.79,735.05 1530.29,735 1531.79,734.96 1533.29,734.92 1534.8,734.88 1536.3,734.84 1537.8,734.8" fill="none" stroke="#0000ec" stroke-width="3" stroke-linejoin="round" stroke-linecap="round"/>
</svg>
</body></html>
